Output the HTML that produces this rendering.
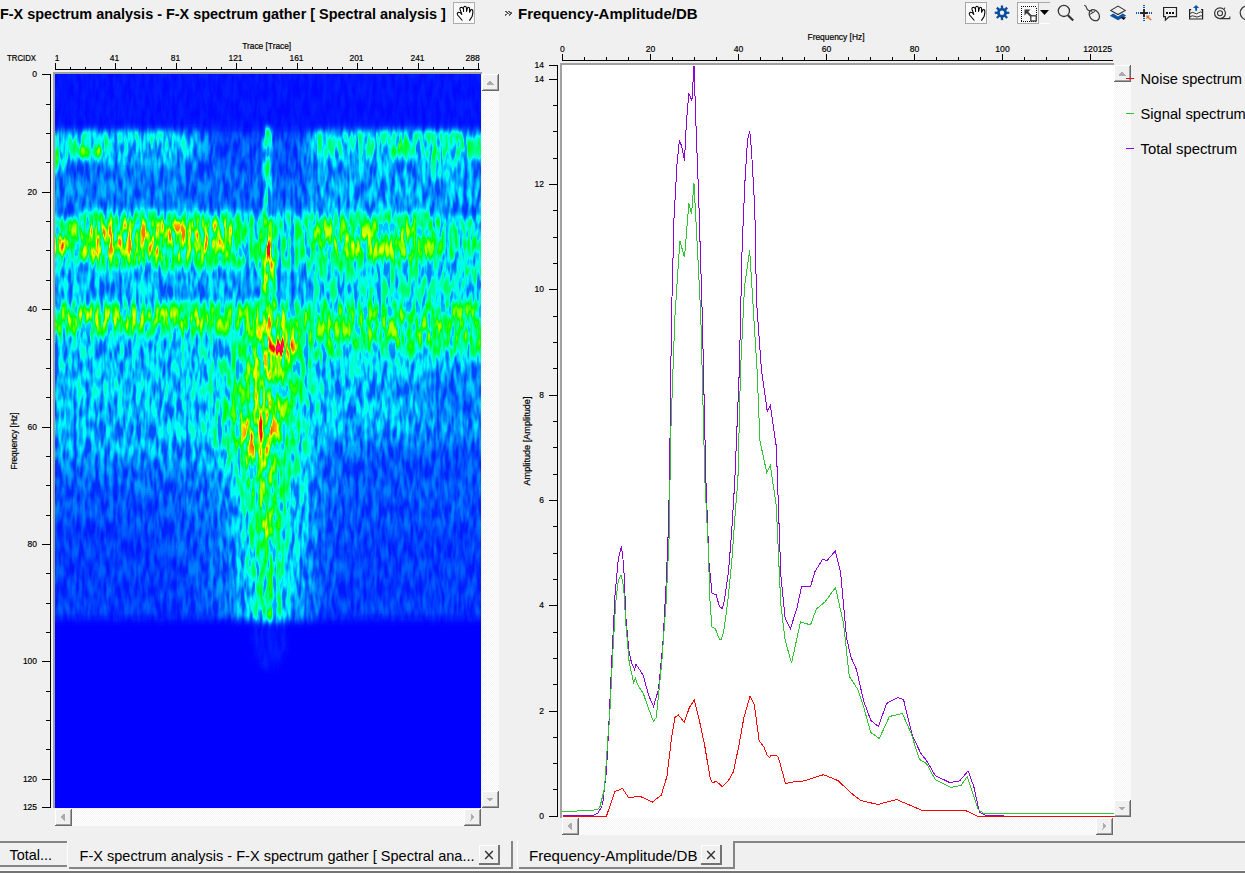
<!DOCTYPE html>
<html><head><meta charset="utf-8"><title>F-X spectrum analysis</title>
<style>
*{margin:0;padding:0}
html,body{width:1245px;height:873px;overflow:hidden;background:#f0f0f0}
svg{position:absolute;left:0;top:0;font-family:'Liberation Sans', sans-serif}
</style></head><body>
<svg width="1245" height="873" viewBox="0 0 1245 873">
<defs>
<pattern id="chk" width="2" height="2" patternUnits="userSpaceOnUse"><rect width="2" height="2" fill="#f4f4f4"/><rect width="1" height="1" fill="#fff"/><rect x="1" y="1" width="1" height="1" fill="#fff"/></pattern>
</defs>
<g shape-rendering="crispEdges">

<text x="0" y="19" font-size="14.5" text-anchor="start" font-weight="bold" fill="#000" textLength="445.8" lengthAdjust="spacingAndGlyphs" >F-X spectrum analysis - F-X spectrum gather [ Spectral analysis ]</text>
<rect x="453" y="2" width="22" height="22" fill="url(#chk)"/>
<rect x="453.5" y="2.5" width="21" height="21" fill="none" stroke="#adadad"/>
<path d="M505 11 L508 13.3 L505 15.6 M508.6 11 L511.6 13.3 L508.6 15.6" fill="none" stroke="#5a5a5a" stroke-width="1.3"/>
<text x="518" y="19" font-size="15" text-anchor="start" font-weight="bold" fill="#000" textLength="179.5" lengthAdjust="spacingAndGlyphs" >Frequency-Amplitude/DB</text>
<rect x="55" y="74" width="426" height="734" fill="#0010f8"/>
<defs><clipPath id="hclip"><rect x="55" y="74" width="426" height="734"/></clipPath>
<filter id="hf" filterUnits="userSpaceOnUse" x="31" y="50" width="474" height="782" color-interpolation-filters="sRGB">
<feGaussianBlur in="SourceGraphic" stdDeviation="2.5 3" result="m"/>
<feTurbulence type="fractalNoise" baseFrequency="0.22 0.05" numOctaves="2" seed="11" result="t"/>
<feColorMatrix in="t" type="matrix" values="2.4 0 0 0 -0.7  2.4 0 0 0 -0.7  2.4 0 0 0 -0.7  0 0 0 0 1" result="n"/>
<feComposite in="m" in2="n" operator="arithmetic" k1="1.1" k2="0.45" k3="0" k4="0" result="v"/>
<feComponentTransfer in="v">
<feFuncR type="table" tableValues="0 0 0 1 1 1"/>
<feFuncG type="table" tableValues="0 1 1 1 0 0"/>
<feFuncB type="table" tableValues="1 1 0 0 0 0.7"/>
<feFuncA type="table" tableValues="1 1"/>
</feComponentTransfer>
</filter></defs>
<g clip-path="url(#hclip)"><g filter="url(#hf)">
<path fill="rgb(0,0,0)" d="M31 622h220v4h-220zM291 622h216v4h-216zM31 626h220v4h-220zM287 626h220v4h-220zM31 630h220v4h-220zM287 630h220v4h-220zM31 634h220v4h-220zM287 634h220v4h-220zM31 638h220v4h-220zM287 638h220v4h-220zM31 642h224v4h-224zM287 642h220v4h-220zM31 646h224v4h-224zM287 646h220v4h-220zM31 650h224v4h-224zM287 650h220v4h-220zM31 654h224v4h-224zM283 654h224v4h-224zM31 658h228v4h-228zM283 658h224v4h-224zM31 662h228v4h-228zM279 662h228v4h-228zM31 666h232v4h-232zM279 666h228v4h-228zM31 670h476v4h-476zM31 674h476v4h-476zM31 678h476v4h-476zM31 682h476v4h-476zM31 686h476v4h-476zM31 690h476v4h-476zM31 694h476v4h-476zM31 698h476v4h-476zM31 702h476v4h-476zM31 706h476v4h-476zM31 710h476v4h-476zM31 714h476v4h-476zM31 718h476v4h-476zM31 722h476v4h-476zM31 726h476v4h-476zM31 730h476v4h-476zM31 734h476v4h-476zM31 738h476v4h-476zM31 742h476v4h-476zM31 746h476v4h-476zM31 750h476v4h-476zM31 754h476v4h-476zM31 758h476v4h-476zM31 762h476v4h-476zM31 766h476v4h-476zM31 770h476v4h-476zM31 774h476v4h-476zM31 778h476v4h-476zM31 782h476v4h-476zM31 786h476v4h-476zM31 790h476v4h-476zM31 794h476v4h-476zM31 798h476v4h-476zM31 802h476v4h-476zM31 806h476v4h-476zM31 810h476v4h-476zM31 814h476v4h-476zM31 818h476v4h-476zM31 822h476v4h-476zM31 826h476v4h-476zM31 830h476v4h-476z"/>
<path fill="rgb(4,4,4)" d="M31 50h476v4h-476zM31 54h476v4h-476zM31 58h476v4h-476zM31 62h476v4h-476zM31 66h476v4h-476zM31 70h476v4h-476zM31 74h476v4h-476zM31 78h476v4h-476zM31 82h476v4h-476zM31 86h476v4h-476zM31 90h476v4h-476zM31 94h476v4h-476zM31 98h476v4h-476zM31 102h476v4h-476zM31 106h476v4h-476zM31 110h476v4h-476zM31 114h476v4h-476zM31 118h476v4h-476zM31 122h476v4h-476zM31 126h476v4h-476zM31 618h200v4h-200zM319 618h188v4h-188zM251 622h40v4h-40zM251 626h36v4h-36zM251 630h36v4h-36zM251 634h36v4h-36zM251 638h36v4h-36zM255 642h32v4h-32zM255 646h32v4h-32zM255 650h32v4h-32zM255 654h28v4h-28zM259 658h24v4h-24zM259 662h20v4h-20zM263 666h16v4h-16z"/>
<path fill="rgb(8,8,8)" d="M215 130h88v4h-88zM31 614h136v4h-136zM355 614h152v4h-152zM231 618h4v4h-4zM315 618h4v4h-4z"/>
<path fill="rgb(12,12,12)" d="M207 130h8v4h-8zM447 210h60v4h-60zM31 522h104v4h-104zM31 526h116v4h-116zM383 526h124v4h-124zM31 530h124v4h-124zM371 530h136v4h-136zM31 534h132v4h-132zM367 534h140v4h-140zM31 538h136v4h-136zM359 538h148v4h-148zM31 542h140v4h-140zM355 542h152v4h-152zM31 546h140v4h-140zM351 546h156v4h-156zM31 550h144v4h-144zM351 550h156v4h-156zM31 554h148v4h-148zM347 554h160v4h-160zM31 558h148v4h-148zM343 558h164v4h-164zM31 562h148v4h-148zM343 562h164v4h-164zM31 566h152v4h-152zM343 566h164v4h-164zM31 570h152v4h-152zM339 570h168v4h-168zM31 574h152v4h-152zM339 574h168v4h-168zM31 578h156v4h-156zM339 578h168v4h-168zM31 582h156v4h-156zM335 582h172v4h-172zM31 586h156v4h-156zM335 586h172v4h-172zM31 590h160v4h-160zM335 590h172v4h-172zM31 594h160v4h-160zM335 594h172v4h-172zM31 598h160v4h-160zM331 598h176v4h-176zM31 602h160v4h-160zM331 602h176v4h-176zM31 606h164v4h-164zM331 606h176v4h-176zM31 610h164v4h-164zM331 610h176v4h-176zM167 614h32v4h-32zM323 614h32v4h-32zM235 618h8v4h-8zM307 618h8v4h-8z"/>
<path fill="rgb(16,16,16)" d="M199 130h8v4h-8zM303 130h4v4h-4zM215 134h88v4h-88zM215 138h84v4h-84zM215 142h84v4h-84zM219 146h80v4h-80zM219 150h80v4h-80zM219 154h80v4h-80zM219 158h80v4h-80zM219 162h80v4h-80zM219 166h80v4h-80zM31 210h44v4h-44zM443 210h4v4h-4zM399 450h108v4h-108zM379 454h128v4h-128zM371 458h136v4h-136zM363 462h144v4h-144zM359 466h148v4h-148zM355 470h152v4h-152zM351 474h156v4h-156zM351 478h156v4h-156zM347 482h160v4h-160zM343 486h164v4h-164zM31 490h108v4h-108zM343 490h164v4h-164zM31 494h128v4h-128zM339 494h168v4h-168zM31 498h140v4h-140zM339 498h168v4h-168zM31 502h148v4h-148zM335 502h172v4h-172zM31 506h152v4h-152zM335 506h172v4h-172zM31 510h156v4h-156zM335 510h172v4h-172zM31 514h160v4h-160zM331 514h176v4h-176zM31 518h164v4h-164zM331 518h176v4h-176zM135 522h60v4h-60zM331 522h176v4h-176zM147 526h48v4h-48zM327 526h56v4h-56zM155 530h44v4h-44zM327 530h44v4h-44zM163 534h36v4h-36zM327 534h40v4h-40zM167 538h32v4h-32zM323 538h36v4h-36zM171 542h32v4h-32zM323 542h32v4h-32zM171 546h32v4h-32zM323 546h28v4h-28zM175 550h28v4h-28zM323 550h28v4h-28zM179 554h24v4h-24zM323 554h24v4h-24zM179 558h28v4h-28zM323 558h20v4h-20zM179 562h28v4h-28zM323 562h20v4h-20zM183 566h24v4h-24zM319 566h24v4h-24zM183 570h24v4h-24zM319 570h20v4h-20zM183 574h24v4h-24zM319 574h20v4h-20zM187 578h20v4h-20zM319 578h20v4h-20zM187 582h24v4h-24zM319 582h16v4h-16zM187 586h24v4h-24zM319 586h16v4h-16zM191 590h20v4h-20zM319 590h16v4h-16zM191 594h20v4h-20zM319 594h16v4h-16zM191 598h20v4h-20zM319 598h12v4h-12zM191 602h20v4h-20zM319 602h12v4h-12zM195 606h20v4h-20zM319 606h12v4h-12zM195 610h20v4h-20zM319 610h12v4h-12zM199 614h20v4h-20zM315 614h8v4h-8zM243 618h4v4h-4zM295 618h12v4h-12z"/>
<path fill="rgb(20,20,20)" d="M195 130h4v4h-4zM307 130h4v4h-4zM211 134h4v4h-4zM211 138h4v4h-4zM299 138h4v4h-4zM207 142h8v4h-8zM299 142h4v4h-4zM207 146h12v4h-12zM299 146h4v4h-4zM207 150h12v4h-12zM299 150h4v4h-4zM207 154h12v4h-12zM299 154h4v4h-4zM203 158h16v4h-16zM299 158h8v4h-8zM199 162h20v4h-20zM299 162h8v4h-8zM195 166h24v4h-24zM299 166h8v4h-8zM191 170h116v4h-116zM191 174h116v4h-116zM191 178h116v4h-116zM191 182h116v4h-116zM191 186h116v4h-116zM191 190h116v4h-116zM195 194h112v4h-112zM195 198h108v4h-108zM199 202h104v4h-104zM207 206h56v4h-56zM271 206h32v4h-32zM75 210h4v4h-4zM439 210h4v4h-4zM423 442h64v4h-64zM343 446h164v4h-164zM331 450h68v4h-68zM327 454h52v4h-52zM327 458h44v4h-44zM327 462h36v4h-36zM323 466h36v4h-36zM31 470h120v4h-120zM323 470h32v4h-32zM31 474h148v4h-148zM323 474h28v4h-28zM31 478h152v4h-152zM323 478h28v4h-28zM31 482h156v4h-156zM323 482h24v4h-24zM31 486h160v4h-160zM323 486h20v4h-20zM139 490h56v4h-56zM323 490h20v4h-20zM159 494h40v4h-40zM323 494h16v4h-16zM171 498h32v4h-32zM319 498h20v4h-20zM179 502h24v4h-24zM319 502h16v4h-16zM183 506h24v4h-24zM319 506h16v4h-16zM187 510h24v4h-24zM319 510h16v4h-16zM191 514h20v4h-20zM319 514h12v4h-12zM195 518h20v4h-20zM319 518h12v4h-12zM195 522h20v4h-20zM319 522h12v4h-12zM195 526h20v4h-20zM319 526h8v4h-8zM199 530h16v4h-16zM319 530h8v4h-8zM199 534h20v4h-20zM319 534h8v4h-8zM199 538h20v4h-20zM319 538h4v4h-4zM203 542h16v4h-16zM319 542h4v4h-4zM203 546h16v4h-16zM319 546h4v4h-4zM203 550h16v4h-16zM315 550h8v4h-8zM203 554h20v4h-20zM315 554h8v4h-8zM207 558h16v4h-16zM315 558h8v4h-8zM207 562h16v4h-16zM315 562h8v4h-8zM207 566h16v4h-16zM315 566h4v4h-4zM207 570h16v4h-16zM315 570h4v4h-4zM207 574h16v4h-16zM315 574h4v4h-4zM207 578h20v4h-20zM315 578h4v4h-4zM211 582h16v4h-16zM315 582h4v4h-4zM211 586h16v4h-16zM315 586h4v4h-4zM211 590h16v4h-16zM315 590h4v4h-4zM211 594h16v4h-16zM311 594h8v4h-8zM211 598h16v4h-16zM311 598h8v4h-8zM211 602h16v4h-16zM311 602h8v4h-8zM215 606h12v4h-12zM311 606h8v4h-8zM215 610h12v4h-12zM311 610h8v4h-8zM219 614h12v4h-12zM311 614h4v4h-4zM247 618h4v4h-4zM287 618h8v4h-8z"/>
<path fill="rgb(24,24,24)" d="M187 130h8v4h-8zM203 134h8v4h-8zM303 134h4v4h-4zM203 138h8v4h-8zM303 138h4v4h-4zM203 142h4v4h-4zM303 142h4v4h-4zM203 146h4v4h-4zM303 146h4v4h-4zM203 150h4v4h-4zM303 150h4v4h-4zM199 154h8v4h-8zM303 154h4v4h-4zM195 158h8v4h-8zM183 162h16v4h-16zM307 162h4v4h-4zM31 166h16v4h-16zM67 166h128v4h-128zM307 166h4v4h-4zM31 170h20v4h-20zM63 170h128v4h-128zM307 170h4v4h-4zM31 174h160v4h-160zM307 174h4v4h-4zM31 178h160v4h-160zM307 178h4v4h-4zM31 182h160v4h-160zM307 182h4v4h-4zM31 186h160v4h-160zM307 186h4v4h-4zM31 190h160v4h-160zM307 190h4v4h-4zM31 194h164v4h-164zM307 194h4v4h-4zM31 198h164v4h-164zM303 198h8v4h-8zM31 202h168v4h-168zM303 202h8v4h-8zM31 206h176v4h-176zM263 206h8v4h-8zM303 206h8v4h-8zM79 210h4v4h-4zM435 210h4v4h-4zM447 378h16v4h-16zM443 382h24v4h-24zM439 386h32v4h-32zM435 390h40v4h-40zM435 394h40v4h-40zM435 398h40v4h-40zM435 402h40v4h-40zM439 406h32v4h-32zM439 410h32v4h-32zM443 414h24v4h-24zM447 434h16v4h-16zM399 438h108v4h-108zM335 442h88v4h-88zM487 442h20v4h-20zM323 446h20v4h-20zM319 450h12v4h-12zM319 454h8v4h-8zM319 458h8v4h-8zM31 462h128v4h-128zM319 462h8v4h-8zM31 466h152v4h-152zM319 466h4v4h-4zM151 470h48v4h-48zM319 470h4v4h-4zM179 474h28v4h-28zM319 474h4v4h-4zM183 478h24v4h-24zM319 478h4v4h-4zM187 482h24v4h-24zM319 482h4v4h-4zM191 486h20v4h-20zM319 486h4v4h-4zM195 490h20v4h-20zM319 490h4v4h-4zM199 494h16v4h-16zM315 494h8v4h-8zM203 498h16v4h-16zM315 498h4v4h-4zM203 502h20v4h-20zM315 502h4v4h-4zM207 506h16v4h-16zM315 506h4v4h-4zM211 510h16v4h-16zM315 510h4v4h-4zM211 514h16v4h-16zM315 514h4v4h-4zM215 518h12v4h-12zM315 518h4v4h-4zM215 522h12v4h-12zM315 522h4v4h-4zM215 526h12v4h-12zM315 526h4v4h-4zM215 530h12v4h-12zM315 530h4v4h-4zM219 534h12v4h-12zM315 534h4v4h-4zM219 538h12v4h-12zM315 538h4v4h-4zM219 542h12v4h-12zM315 542h4v4h-4zM219 546h12v4h-12zM311 546h8v4h-8zM219 550h12v4h-12zM311 550h4v4h-4zM223 554h8v4h-8zM311 554h4v4h-4zM223 558h8v4h-8zM311 558h4v4h-4zM223 562h8v4h-8zM311 562h4v4h-4zM223 566h8v4h-8zM311 566h4v4h-4zM223 570h8v4h-8zM311 570h4v4h-4zM223 574h8v4h-8zM311 574h4v4h-4zM227 578h4v4h-4zM311 578h4v4h-4zM227 582h4v4h-4zM311 582h4v4h-4zM227 586h8v4h-8zM307 586h8v4h-8zM227 590h8v4h-8zM307 590h8v4h-8zM227 594h8v4h-8zM307 594h4v4h-4zM227 598h8v4h-8zM307 598h4v4h-4zM227 602h8v4h-8zM307 602h4v4h-4zM227 606h8v4h-8zM307 606h4v4h-4zM227 610h8v4h-8zM303 610h8v4h-8zM231 614h4v4h-4zM303 614h8v4h-8zM251 618h4v4h-4zM283 618h4v4h-4z"/>
<path fill="rgb(28,28,28)" d="M183 130h4v4h-4zM311 130h4v4h-4zM199 134h4v4h-4zM199 138h4v4h-4zM195 142h8v4h-8zM195 146h8v4h-8zM195 150h8v4h-8zM195 154h4v4h-4zM307 154h4v4h-4zM183 158h12v4h-12zM307 158h4v4h-4zM31 162h16v4h-16zM67 162h116v4h-116zM311 162h4v4h-4zM47 166h4v4h-4zM63 166h4v4h-4zM311 166h8v4h-8zM51 170h4v4h-4zM59 170h4v4h-4zM311 170h8v4h-8zM311 174h8v4h-8zM311 178h8v4h-8zM311 182h8v4h-8zM311 186h8v4h-8zM311 190h4v4h-4zM311 194h4v4h-4zM311 198h4v4h-4zM311 202h4v4h-4zM311 206h4v4h-4zM439 370h32v4h-32zM435 374h40v4h-40zM431 378h16v4h-16zM463 378h16v4h-16zM427 382h16v4h-16zM467 382h16v4h-16zM427 386h12v4h-12zM471 386h12v4h-12zM423 390h12v4h-12zM475 390h12v4h-12zM423 394h12v4h-12zM475 394h12v4h-12zM423 398h12v4h-12zM475 398h12v4h-12zM423 402h12v4h-12zM475 402h12v4h-12zM423 406h16v4h-16zM471 406h16v4h-16zM423 410h16v4h-16zM471 410h16v4h-16zM427 414h16v4h-16zM467 414h16v4h-16zM427 418h56v4h-56zM431 422h48v4h-48zM435 426h40v4h-40zM427 430h56v4h-56zM367 434h80v4h-80zM463 434h44v4h-44zM331 438h68v4h-68zM323 442h12v4h-12zM319 446h4v4h-4zM315 450h4v4h-4zM31 454h128v4h-128zM315 454h4v4h-4zM31 458h156v4h-156zM315 458h4v4h-4zM159 462h40v4h-40zM315 462h4v4h-4zM183 466h24v4h-24zM315 466h4v4h-4zM199 470h16v4h-16zM315 470h4v4h-4zM207 474h12v4h-12zM315 474h4v4h-4zM207 478h16v4h-16zM315 478h4v4h-4zM211 482h12v4h-12zM315 482h4v4h-4zM211 486h12v4h-12zM315 486h4v4h-4zM215 490h12v4h-12zM315 490h4v4h-4zM215 494h12v4h-12zM219 498h8v4h-8zM223 502h8v4h-8zM311 502h4v4h-4zM223 506h8v4h-8zM311 506h4v4h-4zM227 510h4v4h-4zM311 510h4v4h-4zM227 514h4v4h-4zM311 514h4v4h-4zM227 518h4v4h-4zM311 518h4v4h-4zM227 522h4v4h-4zM311 522h4v4h-4zM227 526h4v4h-4zM311 526h4v4h-4zM227 530h8v4h-8zM311 530h4v4h-4zM231 534h4v4h-4zM311 534h4v4h-4zM231 538h4v4h-4zM311 538h4v4h-4zM231 542h4v4h-4zM311 542h4v4h-4zM231 546h4v4h-4zM307 546h4v4h-4zM231 550h4v4h-4zM307 550h4v4h-4zM231 554h4v4h-4zM307 554h4v4h-4zM231 558h4v4h-4zM307 558h4v4h-4zM231 562h4v4h-4zM307 562h4v4h-4zM231 566h4v4h-4zM307 566h4v4h-4zM231 570h4v4h-4zM307 570h4v4h-4zM231 574h4v4h-4zM303 574h8v4h-8zM231 578h4v4h-4zM303 578h8v4h-8zM231 582h8v4h-8zM303 582h8v4h-8zM235 586h4v4h-4zM303 586h4v4h-4zM235 590h4v4h-4zM303 590h4v4h-4zM235 594h4v4h-4zM299 594h8v4h-8zM235 598h4v4h-4zM299 598h8v4h-8zM235 602h4v4h-4zM299 602h8v4h-8zM235 606h4v4h-4zM299 606h8v4h-8zM235 610h4v4h-4zM295 610h8v4h-8zM235 614h8v4h-8zM295 614h8v4h-8zM255 618h4v4h-4z"/>
<path fill="rgb(32,32,32)" d="M171 130h12v4h-12zM195 134h4v4h-4zM195 138h4v4h-4zM307 138h4v4h-4zM191 142h4v4h-4zM307 142h4v4h-4zM191 146h4v4h-4zM307 146h4v4h-4zM191 150h4v4h-4zM307 150h4v4h-4zM187 154h8v4h-8zM171 158h12v4h-12zM311 158h4v4h-4zM47 162h4v4h-4zM63 162h4v4h-4zM315 162h104v4h-104zM463 162h44v4h-44zM319 166h104v4h-104zM459 166h48v4h-48zM55 170h4v4h-4zM319 170h104v4h-104zM455 170h52v4h-52zM319 174h104v4h-104zM455 174h52v4h-52zM319 178h108v4h-108zM455 178h52v4h-52zM319 182h112v4h-112zM451 182h56v4h-56zM319 186h188v4h-188zM315 190h192v4h-192zM315 194h192v4h-192zM315 198h192v4h-192zM315 202h192v4h-192zM315 206h192v4h-192zM83 210h4v4h-4zM239 210h24v4h-24zM271 210h36v4h-36zM431 210h4v4h-4zM447 262h60v4h-60zM231 270h28v4h-28zM279 270h24v4h-24zM231 274h28v4h-28zM279 274h24v4h-24zM231 278h28v4h-28zM279 278h28v4h-28zM231 282h28v4h-28zM279 282h28v4h-28zM231 286h28v4h-28zM279 286h28v4h-28zM231 290h28v4h-28zM279 290h28v4h-28zM231 294h28v4h-28zM279 294h28v4h-28zM443 362h24v4h-24zM427 366h56v4h-56zM423 370h16v4h-16zM471 370h16v4h-16zM419 374h16v4h-16zM475 374h16v4h-16zM415 378h16v4h-16zM479 378h16v4h-16zM415 382h12v4h-12zM483 382h12v4h-12zM411 386h16v4h-16zM483 386h16v4h-16zM411 390h12v4h-12zM487 390h12v4h-12zM407 394h16v4h-16zM487 394h16v4h-16zM407 398h16v4h-16zM487 398h16v4h-16zM407 402h16v4h-16zM487 402h16v4h-16zM403 406h20v4h-20zM487 406h20v4h-20zM403 410h20v4h-20zM487 410h20v4h-20zM403 414h24v4h-24zM483 414h24v4h-24zM403 418h24v4h-24zM483 418h24v4h-24zM399 422h32v4h-32zM479 422h28v4h-28zM399 426h36v4h-36zM475 426h32v4h-32zM351 430h76v4h-76zM483 430h24v4h-24zM31 434h96v4h-96zM327 434h40v4h-40zM31 438h128v4h-128zM319 438h12v4h-12zM31 442h136v4h-136zM319 442h4v4h-4zM31 446h144v4h-144zM315 446h4v4h-4zM31 450h156v4h-156zM159 454h36v4h-36zM187 458h20v4h-20zM199 462h12v4h-12zM311 462h4v4h-4zM207 466h12v4h-12zM311 466h4v4h-4zM215 470h8v4h-8zM311 470h4v4h-4zM219 474h8v4h-8zM311 474h4v4h-4zM223 478h4v4h-4zM311 478h4v4h-4zM223 482h4v4h-4zM311 482h4v4h-4zM223 486h8v4h-8zM311 486h4v4h-4zM227 490h4v4h-4zM311 490h4v4h-4zM227 494h4v4h-4zM311 494h4v4h-4zM227 498h4v4h-4zM311 498h4v4h-4zM231 506h4v4h-4zM231 510h4v4h-4zM307 510h4v4h-4zM231 514h4v4h-4zM307 514h4v4h-4zM231 518h4v4h-4zM307 518h4v4h-4zM231 522h4v4h-4zM307 522h4v4h-4zM231 526h4v4h-4zM307 526h4v4h-4zM307 530h4v4h-4zM307 534h4v4h-4zM235 538h4v4h-4zM307 538h4v4h-4zM235 542h4v4h-4zM303 542h8v4h-8zM235 546h4v4h-4zM303 546h4v4h-4zM235 550h4v4h-4zM303 550h4v4h-4zM235 554h4v4h-4zM303 554h4v4h-4zM235 558h4v4h-4zM303 558h4v4h-4zM235 562h4v4h-4zM299 562h8v4h-8zM235 566h4v4h-4zM299 566h8v4h-8zM235 570h4v4h-4zM299 570h8v4h-8zM235 574h4v4h-4zM299 574h4v4h-4zM235 578h4v4h-4zM295 578h8v4h-8zM239 582h4v4h-4zM295 582h8v4h-8zM239 586h4v4h-4zM295 586h8v4h-8zM239 590h4v4h-4zM295 590h8v4h-8zM239 594h4v4h-4zM295 594h4v4h-4zM239 598h4v4h-4zM295 598h4v4h-4zM239 602h4v4h-4zM291 602h8v4h-8zM239 606h4v4h-4zM291 606h8v4h-8zM239 610h8v4h-8zM291 610h4v4h-4zM243 614h4v4h-4zM291 614h4v4h-4zM279 618h4v4h-4z"/>
<path fill="rgb(36,36,36)" d="M31 130h140v4h-140zM315 130h108v4h-108zM455 130h52v4h-52zM191 134h4v4h-4zM307 134h4v4h-4zM187 138h8v4h-8zM187 142h4v4h-4zM183 146h8v4h-8zM183 150h8v4h-8zM179 154h8v4h-8zM311 154h4v4h-4zM31 158h16v4h-16zM67 158h12v4h-12zM83 158h4v4h-4zM107 158h64v4h-64zM315 158h4v4h-4zM419 162h4v4h-4zM455 162h8v4h-8zM423 166h4v4h-4zM451 166h8v4h-8zM423 170h4v4h-4zM451 170h4v4h-4zM423 174h8v4h-8zM447 174h8v4h-8zM427 178h12v4h-12zM443 178h12v4h-12zM431 182h20v4h-20zM87 210h4v4h-4zM231 210h8v4h-8zM307 210h8v4h-8zM427 210h4v4h-4zM443 214h64v4h-64zM443 262h4v4h-4zM31 270h200v4h-200zM275 270h4v4h-4zM303 270h4v4h-4zM31 274h200v4h-200zM275 274h4v4h-4zM303 274h4v4h-4zM31 278h200v4h-200zM275 278h4v4h-4zM31 282h200v4h-200zM275 282h4v4h-4zM307 282h4v4h-4zM31 286h200v4h-200zM275 286h4v4h-4zM307 286h4v4h-4zM31 290h200v4h-200zM275 290h4v4h-4zM307 290h4v4h-4zM31 294h200v4h-200zM275 294h4v4h-4zM307 294h4v4h-4zM31 298h216v4h-216zM287 298h16v4h-16zM415 362h28v4h-28zM467 362h28v4h-28zM387 366h40v4h-40zM483 366h24v4h-24zM379 370h44v4h-44zM487 370h20v4h-20zM371 374h48v4h-48zM491 374h16v4h-16zM363 378h52v4h-52zM495 378h12v4h-12zM359 382h56v4h-56zM495 382h12v4h-12zM355 386h56v4h-56zM499 386h8v4h-8zM351 390h60v4h-60zM499 390h8v4h-8zM347 394h60v4h-60zM503 394h4v4h-4zM347 398h60v4h-60zM503 398h4v4h-4zM31 402h112v4h-112zM343 402h64v4h-64zM503 402h4v4h-4zM31 406h128v4h-128zM343 406h60v4h-60zM31 410h140v4h-140zM339 410h64v4h-64zM31 414h144v4h-144zM339 414h64v4h-64zM31 418h148v4h-148zM335 418h68v4h-68zM31 422h152v4h-152zM335 422h64v4h-64zM31 426h156v4h-156zM335 426h64v4h-64zM31 430h156v4h-156zM327 430h24v4h-24zM127 434h64v4h-64zM319 434h8v4h-8zM159 438h32v4h-32zM315 438h4v4h-4zM167 442h28v4h-28zM315 442h4v4h-4zM175 446h24v4h-24zM311 446h4v4h-4zM187 450h16v4h-16zM311 450h4v4h-4zM195 454h12v4h-12zM311 454h4v4h-4zM207 458h8v4h-8zM311 458h4v4h-4zM211 462h8v4h-8zM219 466h8v4h-8zM223 470h4v4h-4zM227 474h4v4h-4zM307 474h4v4h-4zM227 478h4v4h-4zM307 478h4v4h-4zM227 482h4v4h-4zM307 482h4v4h-4zM307 486h4v4h-4zM231 490h4v4h-4zM307 490h4v4h-4zM231 494h4v4h-4zM307 494h4v4h-4zM231 498h4v4h-4zM307 498h4v4h-4zM231 502h4v4h-4zM307 502h4v4h-4zM307 506h4v4h-4zM235 510h4v4h-4zM303 510h4v4h-4zM235 514h4v4h-4zM303 514h4v4h-4zM235 518h4v4h-4zM303 518h4v4h-4zM235 522h4v4h-4zM303 522h4v4h-4zM235 526h4v4h-4zM303 526h4v4h-4zM235 530h4v4h-4zM303 530h4v4h-4zM235 534h4v4h-4zM299 534h8v4h-8zM299 538h8v4h-8zM299 542h4v4h-4zM299 546h4v4h-4zM295 550h8v4h-8zM239 554h4v4h-4zM295 554h8v4h-8zM239 558h4v4h-4zM295 558h8v4h-8zM239 562h4v4h-4zM295 562h4v4h-4zM239 566h4v4h-4zM295 566h4v4h-4zM239 570h4v4h-4zM295 570h4v4h-4zM239 574h4v4h-4zM291 574h8v4h-8zM239 578h4v4h-4zM291 578h4v4h-4zM291 582h4v4h-4zM243 586h4v4h-4zM291 586h4v4h-4zM243 590h4v4h-4zM291 590h4v4h-4zM243 594h4v4h-4zM291 594h4v4h-4zM243 598h4v4h-4zM291 598h4v4h-4zM243 602h4v4h-4zM243 606h4v4h-4zM287 610h4v4h-4zM247 614h4v4h-4zM287 614h4v4h-4zM259 618h4v4h-4zM275 618h4v4h-4z"/>
<path fill="rgb(40,40,40)" d="M423 130h32v4h-32zM187 134h4v4h-4zM183 138h4v4h-4zM179 142h8v4h-8zM311 142h4v4h-4zM175 146h8v4h-8zM311 146h4v4h-4zM171 150h12v4h-12zM311 150h4v4h-4zM31 154h16v4h-16zM67 154h4v4h-4zM111 154h68v4h-68zM315 154h4v4h-4zM47 158h4v4h-4zM63 158h4v4h-4zM79 158h4v4h-4zM87 158h20v4h-20zM319 158h104v4h-104zM463 158h44v4h-44zM423 162h4v4h-4zM451 162h4v4h-4zM51 166h4v4h-4zM59 166h4v4h-4zM427 166h4v4h-4zM447 166h4v4h-4zM427 170h8v4h-8zM447 170h4v4h-4zM431 174h16v4h-16zM439 178h4v4h-4zM203 210h28v4h-28zM315 210h4v4h-4zM31 214h44v4h-44zM439 214h4v4h-4zM31 262h44v4h-44zM439 262h4v4h-4zM307 270h4v4h-4zM307 274h4v4h-4zM307 278h4v4h-4zM311 286h4v4h-4zM311 290h4v4h-4zM259 294h4v4h-4zM311 294h4v4h-4zM247 298h4v4h-4zM283 298h4v4h-4zM303 298h8v4h-8zM31 338h196v4h-196zM31 342h196v4h-196zM31 346h148v4h-148zM31 350h152v4h-152zM31 354h152v4h-152zM31 358h152v4h-152zM443 358h24v4h-24zM31 362h152v4h-152zM343 362h72v4h-72zM495 362h12v4h-12zM31 366h156v4h-156zM331 366h56v4h-56zM31 370h156v4h-156zM327 370h52v4h-52zM31 374h156v4h-156zM327 374h44v4h-44zM31 378h156v4h-156zM327 378h36v4h-36zM31 382h160v4h-160zM327 382h32v4h-32zM31 386h160v4h-160zM327 386h28v4h-28zM31 390h160v4h-160zM323 390h28v4h-28zM31 394h160v4h-160zM323 394h24v4h-24zM31 398h160v4h-160zM323 398h24v4h-24zM143 402h52v4h-52zM323 402h20v4h-20zM159 406h36v4h-36zM323 406h20v4h-20zM171 410h24v4h-24zM323 410h16v4h-16zM175 414h24v4h-24zM323 414h16v4h-16zM179 418h20v4h-20zM323 418h12v4h-12zM183 422h16v4h-16zM319 422h16v4h-16zM187 426h12v4h-12zM319 426h16v4h-16zM187 430h12v4h-12zM319 430h8v4h-8zM191 434h8v4h-8zM315 434h4v4h-4zM191 438h8v4h-8zM195 442h8v4h-8zM311 442h4v4h-4zM199 446h8v4h-8zM203 450h8v4h-8zM207 454h8v4h-8zM307 454h4v4h-4zM215 458h4v4h-4zM307 458h4v4h-4zM219 462h8v4h-8zM307 462h4v4h-4zM307 466h4v4h-4zM227 470h4v4h-4zM307 470h4v4h-4zM231 478h4v4h-4zM231 482h4v4h-4zM303 482h4v4h-4zM231 486h4v4h-4zM303 486h4v4h-4zM303 490h4v4h-4zM303 494h4v4h-4zM235 498h4v4h-4zM303 498h4v4h-4zM235 502h4v4h-4zM303 502h4v4h-4zM235 506h4v4h-4zM299 506h8v4h-8zM299 510h4v4h-4zM299 514h4v4h-4zM239 518h4v4h-4zM295 518h8v4h-8zM239 522h4v4h-4zM295 522h8v4h-8zM239 526h4v4h-4zM295 526h8v4h-8zM239 530h4v4h-4zM295 530h8v4h-8zM239 534h4v4h-4zM295 534h4v4h-4zM239 538h4v4h-4zM295 538h4v4h-4zM239 542h4v4h-4zM291 542h8v4h-8zM239 546h4v4h-4zM291 546h8v4h-8zM239 550h4v4h-4zM291 550h4v4h-4zM291 554h4v4h-4zM291 558h4v4h-4zM291 562h4v4h-4zM243 566h4v4h-4zM291 566h4v4h-4zM243 570h4v4h-4zM291 570h4v4h-4zM243 574h4v4h-4zM243 578h4v4h-4zM287 578h4v4h-4zM243 582h4v4h-4zM287 582h4v4h-4zM287 586h4v4h-4zM287 590h4v4h-4zM247 594h4v4h-4zM287 594h4v4h-4zM247 598h4v4h-4zM287 598h4v4h-4zM247 602h4v4h-4zM287 602h4v4h-4zM247 606h4v4h-4zM287 606h4v4h-4zM247 610h4v4h-4z"/>
<path fill="rgb(45,45,45)" d="M183 134h4v4h-4zM311 134h4v4h-4zM175 138h8v4h-8zM311 138h4v4h-4zM31 142h20v4h-20zM63 142h8v4h-8zM111 142h68v4h-68zM31 146h20v4h-20zM63 146h8v4h-8zM111 146h64v4h-64zM31 150h16v4h-16zM67 150h4v4h-4zM111 150h60v4h-60zM315 150h4v4h-4zM71 154h4v4h-4zM319 154h72v4h-72zM407 154h8v4h-8zM471 154h36v4h-36zM423 158h4v4h-4zM455 158h8v4h-8zM427 162h4v4h-4zM447 162h4v4h-4zM431 166h4v4h-4zM443 166h4v4h-4zM435 170h12v4h-12zM91 210h4v4h-4zM179 210h24v4h-24zM263 210h8v4h-8zM319 210h108v4h-108zM75 214h4v4h-4zM75 262h4v4h-4zM435 262h4v4h-4zM243 266h16v4h-16zM279 266h28v4h-28zM311 270h4v4h-4zM311 274h4v4h-4zM311 278h4v4h-4zM311 282h4v4h-4zM259 290h4v4h-4zM315 290h4v4h-4zM315 294h4v4h-4zM251 298h4v4h-4zM279 298h4v4h-4zM311 298h8v4h-8zM227 338h4v4h-4zM227 342h4v4h-4zM179 346h28v4h-28zM183 350h24v4h-24zM183 354h24v4h-24zM183 358h24v4h-24zM407 358h36v4h-36zM467 358h36v4h-36zM183 362h24v4h-24zM323 362h20v4h-20zM187 366h20v4h-20zM319 366h12v4h-12zM187 370h20v4h-20zM319 370h8v4h-8zM187 374h20v4h-20zM319 374h8v4h-8zM187 378h20v4h-20zM319 378h8v4h-8zM191 382h16v4h-16zM319 382h8v4h-8zM191 386h16v4h-16zM319 386h8v4h-8zM191 390h16v4h-16zM319 390h4v4h-4zM191 394h16v4h-16zM319 394h4v4h-4zM191 398h16v4h-16zM319 398h4v4h-4zM195 402h12v4h-12zM319 402h4v4h-4zM195 406h12v4h-12zM315 406h8v4h-8zM195 410h12v4h-12zM315 410h8v4h-8zM199 414h8v4h-8zM315 414h8v4h-8zM199 418h8v4h-8zM315 418h8v4h-8zM199 422h8v4h-8zM315 422h4v4h-4zM199 426h8v4h-8zM315 426h4v4h-4zM199 430h8v4h-8zM315 430h4v4h-4zM199 434h8v4h-8zM311 434h4v4h-4zM199 438h8v4h-8zM311 438h4v4h-4zM203 442h8v4h-8zM207 446h4v4h-4zM307 446h4v4h-4zM211 450h4v4h-4zM307 450h4v4h-4zM215 454h4v4h-4zM219 458h4v4h-4zM303 462h4v4h-4zM227 466h4v4h-4zM303 466h4v4h-4zM231 470h4v4h-4zM303 470h4v4h-4zM231 474h4v4h-4zM303 474h4v4h-4zM299 478h8v4h-8zM299 482h4v4h-4zM299 486h4v4h-4zM235 490h4v4h-4zM299 490h4v4h-4zM235 494h4v4h-4zM295 494h8v4h-8zM295 498h8v4h-8zM295 502h8v4h-8zM239 506h4v4h-4zM295 506h4v4h-4zM239 510h4v4h-4zM295 510h4v4h-4zM239 514h4v4h-4zM295 514h4v4h-4zM291 518h4v4h-4zM291 522h4v4h-4zM291 526h4v4h-4zM291 530h4v4h-4zM291 534h4v4h-4zM243 538h4v4h-4zM291 538h4v4h-4zM243 542h4v4h-4zM243 546h4v4h-4zM287 546h4v4h-4zM243 550h4v4h-4zM287 550h4v4h-4zM243 554h4v4h-4zM287 554h4v4h-4zM243 558h4v4h-4zM287 558h4v4h-4zM243 562h4v4h-4zM287 562h4v4h-4zM287 566h4v4h-4zM287 570h4v4h-4zM247 574h4v4h-4zM287 574h4v4h-4zM247 578h4v4h-4zM247 582h4v4h-4zM247 586h4v4h-4zM247 590h4v4h-4zM283 594h4v4h-4zM283 598h4v4h-4zM251 602h4v4h-4zM283 602h4v4h-4zM251 606h4v4h-4zM283 606h4v4h-4zM251 610h4v4h-4zM283 610h4v4h-4zM251 614h4v4h-4zM283 614h4v4h-4zM263 618h4v4h-4zM271 618h4v4h-4z"/>
<path fill="rgb(49,49,49)" d="M175 134h8v4h-8zM31 138h48v4h-48zM83 138h4v4h-4zM107 138h68v4h-68zM51 142h12v4h-12zM71 142h4v4h-4zM107 142h4v4h-4zM315 142h4v4h-4zM51 146h4v4h-4zM59 146h4v4h-4zM71 146h4v4h-4zM315 146h4v4h-4zM47 150h4v4h-4zM63 150h4v4h-4zM71 150h4v4h-4zM319 150h72v4h-72zM407 150h12v4h-12zM471 150h36v4h-36zM47 154h4v4h-4zM63 154h4v4h-4zM107 154h4v4h-4zM391 154h4v4h-4zM403 154h4v4h-4zM415 154h8v4h-8zM467 154h4v4h-4zM427 158h4v4h-4zM451 158h4v4h-4zM431 162h4v4h-4zM443 162h4v4h-4zM55 166h4v4h-4zM435 166h8v4h-8zM95 210h84v4h-84zM79 214h4v4h-4zM435 214h4v4h-4zM443 258h64v4h-64zM235 266h8v4h-8zM275 266h4v4h-4zM307 266h4v4h-4zM259 270h4v4h-4zM315 270h4v4h-4zM259 274h4v4h-4zM315 274h4v4h-4zM259 278h4v4h-4zM315 278h4v4h-4zM259 282h4v4h-4zM315 282h4v4h-4zM259 286h4v4h-4zM315 286h8v4h-8zM319 290h4v4h-4zM319 294h188v4h-188zM319 298h188v4h-188zM231 342h4v4h-4zM207 346h16v4h-16zM207 350h16v4h-16zM207 354h16v4h-16zM443 354h24v4h-24zM207 358h16v4h-16zM335 358h72v4h-72zM503 358h4v4h-4zM207 362h12v4h-12zM315 362h8v4h-8zM207 366h12v4h-12zM315 366h4v4h-4zM207 370h12v4h-12zM315 370h4v4h-4zM207 374h12v4h-12zM315 374h4v4h-4zM207 378h12v4h-12zM315 378h4v4h-4zM207 382h12v4h-12zM315 382h4v4h-4zM207 386h8v4h-8zM315 386h4v4h-4zM207 390h8v4h-8zM315 390h4v4h-4zM207 394h8v4h-8zM315 394h4v4h-4zM207 398h8v4h-8zM315 398h4v4h-4zM207 402h4v4h-4zM311 402h8v4h-8zM207 406h4v4h-4zM311 406h4v4h-4zM207 410h4v4h-4zM311 410h4v4h-4zM207 414h4v4h-4zM311 414h4v4h-4zM207 418h4v4h-4zM311 418h4v4h-4zM207 422h4v4h-4zM311 422h4v4h-4zM207 426h4v4h-4zM311 426h4v4h-4zM207 430h4v4h-4zM311 430h4v4h-4zM207 434h4v4h-4zM307 434h4v4h-4zM207 438h4v4h-4zM307 438h4v4h-4zM211 442h4v4h-4zM307 442h4v4h-4zM211 446h4v4h-4zM215 450h4v4h-4zM303 450h4v4h-4zM219 454h4v4h-4zM303 454h4v4h-4zM223 458h4v4h-4zM303 458h4v4h-4zM227 462h4v4h-4zM299 462h4v4h-4zM231 466h4v4h-4zM299 466h4v4h-4zM295 470h8v4h-8zM295 474h8v4h-8zM235 478h4v4h-4zM295 478h4v4h-4zM235 482h4v4h-4zM295 482h4v4h-4zM235 486h4v4h-4zM295 486h4v4h-4zM295 490h4v4h-4zM291 494h4v4h-4zM239 498h4v4h-4zM291 498h4v4h-4zM239 502h4v4h-4zM291 502h4v4h-4zM291 506h4v4h-4zM291 510h4v4h-4zM291 514h4v4h-4zM243 518h4v4h-4zM243 522h4v4h-4zM287 522h4v4h-4zM243 526h4v4h-4zM287 526h4v4h-4zM243 530h4v4h-4zM287 530h4v4h-4zM243 534h4v4h-4zM287 534h4v4h-4zM287 538h4v4h-4zM287 542h4v4h-4zM247 554h4v4h-4zM247 558h4v4h-4zM283 558h4v4h-4zM247 562h4v4h-4zM283 562h4v4h-4zM247 566h4v4h-4zM283 566h4v4h-4zM247 570h4v4h-4zM283 570h4v4h-4zM283 574h4v4h-4zM283 578h4v4h-4zM251 582h4v4h-4zM283 582h4v4h-4zM251 586h4v4h-4zM283 586h4v4h-4zM251 590h4v4h-4zM283 590h4v4h-4zM251 594h4v4h-4zM251 598h4v4h-4zM267 618h4v4h-4z"/>
<path fill="rgb(53,53,53)" d="M31 134h144v4h-144zM79 138h4v4h-4zM87 138h20v4h-20zM315 138h4v4h-4zM75 142h4v4h-4zM319 142h72v4h-72zM407 142h12v4h-12zM471 142h36v4h-36zM55 146h4v4h-4zM319 146h72v4h-72zM407 146h16v4h-16zM471 146h36v4h-36zM419 150h8v4h-8zM467 150h4v4h-4zM395 154h8v4h-8zM423 154h4v4h-4zM451 154h8v4h-8zM447 158h4v4h-4zM51 162h4v4h-4zM59 162h4v4h-4zM435 162h8v4h-8zM243 214h20v4h-20zM271 214h36v4h-36zM431 214h4v4h-4zM443 218h64v4h-64zM439 258h4v4h-4zM79 262h4v4h-4zM431 262h4v4h-4zM31 266h204v4h-204zM311 266h8v4h-8zM319 270h4v4h-4zM319 274h4v4h-4zM319 278h188v4h-188zM319 282h188v4h-188zM323 286h184v4h-184zM323 290h184v4h-184zM271 294h4v4h-4zM255 298h4v4h-4zM275 298h4v4h-4zM231 338h4v4h-4zM223 346h8v4h-8zM223 350h8v4h-8zM223 354h8v4h-8zM371 354h72v4h-72zM467 354h40v4h-40zM223 358h4v4h-4zM319 358h16v4h-16zM219 362h8v4h-8zM311 362h4v4h-4zM219 366h8v4h-8zM311 366h4v4h-4zM219 370h8v4h-8zM311 370h4v4h-4zM219 374h8v4h-8zM311 374h4v4h-4zM219 378h4v4h-4zM311 378h4v4h-4zM219 382h4v4h-4zM311 382h4v4h-4zM215 386h8v4h-8zM311 386h4v4h-4zM215 390h4v4h-4zM311 390h4v4h-4zM215 394h4v4h-4zM311 394h4v4h-4zM215 398h4v4h-4zM311 398h4v4h-4zM211 402h8v4h-8zM211 406h8v4h-8zM307 406h4v4h-4zM211 410h8v4h-8zM307 410h4v4h-4zM211 414h8v4h-8zM307 414h4v4h-4zM211 418h4v4h-4zM307 418h4v4h-4zM211 422h4v4h-4zM307 422h4v4h-4zM211 426h4v4h-4zM307 426h4v4h-4zM211 430h4v4h-4zM307 430h4v4h-4zM211 434h4v4h-4zM211 438h4v4h-4zM303 438h4v4h-4zM215 442h4v4h-4zM303 442h4v4h-4zM215 446h4v4h-4zM303 446h4v4h-4zM219 450h4v4h-4zM299 450h4v4h-4zM223 454h4v4h-4zM299 454h4v4h-4zM227 458h4v4h-4zM299 458h4v4h-4zM295 462h4v4h-4zM295 466h4v4h-4zM235 470h4v4h-4zM291 470h4v4h-4zM235 474h4v4h-4zM291 474h4v4h-4zM291 478h4v4h-4zM291 482h4v4h-4zM291 486h4v4h-4zM239 490h4v4h-4zM291 490h4v4h-4zM239 494h4v4h-4zM287 498h4v4h-4zM287 502h4v4h-4zM243 506h4v4h-4zM287 506h4v4h-4zM243 510h4v4h-4zM287 510h4v4h-4zM243 514h4v4h-4zM287 514h4v4h-4zM287 518h4v4h-4zM247 530h4v4h-4zM247 534h4v4h-4zM247 538h4v4h-4zM283 538h4v4h-4zM247 542h4v4h-4zM283 542h4v4h-4zM247 546h4v4h-4zM283 546h4v4h-4zM247 550h4v4h-4zM283 550h4v4h-4zM283 554h4v4h-4zM251 566h4v4h-4zM251 570h4v4h-4zM251 574h4v4h-4zM251 578h4v4h-4zM279 594h4v4h-4zM255 598h4v4h-4zM279 598h4v4h-4zM255 602h4v4h-4zM279 602h4v4h-4zM255 606h4v4h-4zM279 606h4v4h-4zM255 610h4v4h-4zM279 610h4v4h-4zM255 614h4v4h-4zM279 614h4v4h-4z"/>
<path fill="rgb(57,57,57)" d="M315 134h4v4h-4zM319 138h76v4h-76zM403 138h20v4h-20zM467 138h40v4h-40zM83 142h4v4h-4zM91 142h4v4h-4zM419 142h8v4h-8zM467 142h4v4h-4zM107 146h4v4h-4zM423 146h4v4h-4zM451 146h4v4h-4zM467 146h4v4h-4zM51 150h4v4h-4zM59 150h4v4h-4zM107 150h4v4h-4zM391 150h4v4h-4zM403 150h4v4h-4zM427 150h4v4h-4zM451 150h4v4h-4zM75 154h4v4h-4zM427 154h4v4h-4zM447 154h4v4h-4zM463 154h4v4h-4zM431 158h8v4h-8zM443 158h4v4h-4zM83 214h4v4h-4zM239 214h4v4h-4zM307 214h4v4h-4zM427 214h4v4h-4zM439 218h4v4h-4zM443 222h64v4h-64zM31 258h28v4h-28zM63 258h8v4h-8zM83 262h4v4h-4zM243 262h16v4h-16zM279 262h32v4h-32zM427 262h4v4h-4zM319 266h188v4h-188zM323 270h184v4h-184zM323 274h184v4h-184zM31 302h200v4h-200zM31 334h196v4h-196zM235 342h4v4h-4zM231 350h4v4h-4zM439 350h36v4h-36zM231 354h4v4h-4zM327 354h44v4h-44zM227 358h4v4h-4zM311 358h8v4h-8zM227 362h4v4h-4zM307 362h4v4h-4zM227 366h4v4h-4zM307 366h4v4h-4zM227 370h4v4h-4zM307 370h4v4h-4zM227 374h4v4h-4zM307 374h4v4h-4zM223 378h4v4h-4zM307 378h4v4h-4zM223 382h4v4h-4zM307 382h4v4h-4zM223 386h4v4h-4zM307 386h4v4h-4zM219 390h8v4h-8zM307 390h4v4h-4zM219 394h4v4h-4zM307 394h4v4h-4zM219 398h4v4h-4zM307 398h4v4h-4zM219 402h4v4h-4zM307 402h4v4h-4zM219 406h4v4h-4zM219 410h4v4h-4zM303 410h4v4h-4zM303 414h4v4h-4zM215 418h4v4h-4zM303 418h4v4h-4zM215 422h4v4h-4zM303 422h4v4h-4zM215 426h4v4h-4zM303 426h4v4h-4zM215 430h4v4h-4zM303 430h4v4h-4zM215 434h4v4h-4zM303 434h4v4h-4zM215 438h4v4h-4zM299 442h4v4h-4zM219 446h4v4h-4zM299 446h4v4h-4zM223 450h4v4h-4zM295 450h4v4h-4zM227 454h4v4h-4zM295 454h4v4h-4zM295 458h4v4h-4zM231 462h4v4h-4zM291 462h4v4h-4zM235 466h4v4h-4zM291 466h4v4h-4zM287 474h4v4h-4zM287 478h4v4h-4zM239 482h4v4h-4zM287 482h4v4h-4zM239 486h4v4h-4zM287 486h4v4h-4zM287 490h4v4h-4zM287 494h4v4h-4zM243 498h4v4h-4zM243 502h4v4h-4zM247 514h4v4h-4zM283 514h4v4h-4zM247 518h4v4h-4zM283 518h4v4h-4zM247 522h4v4h-4zM283 522h4v4h-4zM247 526h4v4h-4zM283 526h4v4h-4zM283 530h4v4h-4zM283 534h4v4h-4zM251 546h4v4h-4zM251 550h4v4h-4zM251 554h4v4h-4zM251 558h4v4h-4zM279 558h4v4h-4zM251 562h4v4h-4zM279 562h4v4h-4zM279 566h4v4h-4zM279 570h4v4h-4zM279 574h4v4h-4zM255 578h4v4h-4zM279 578h4v4h-4zM255 582h4v4h-4zM279 582h4v4h-4zM255 586h4v4h-4zM279 586h4v4h-4zM255 590h4v4h-4zM279 590h4v4h-4zM255 594h4v4h-4z"/>
<path fill="rgb(61,61,61)" d="M319 134h112v4h-112zM451 134h56v4h-56zM423 138h12v4h-12zM447 138h12v4h-12zM463 138h4v4h-4zM79 142h4v4h-4zM87 142h4v4h-4zM95 142h12v4h-12zM391 142h4v4h-4zM403 142h4v4h-4zM427 142h8v4h-8zM447 142h8v4h-8zM391 146h4v4h-4zM403 146h4v4h-4zM427 146h8v4h-8zM447 146h4v4h-4zM431 150h4v4h-4zM447 150h4v4h-4zM83 154h4v4h-4zM431 154h4v4h-4zM443 154h4v4h-4zM459 154h4v4h-4zM439 158h4v4h-4zM87 214h4v4h-4zM235 214h4v4h-4zM311 214h8v4h-8zM31 218h44v4h-44zM247 218h12v4h-12zM275 218h28v4h-28zM247 222h12v4h-12zM275 222h28v4h-28zM439 222h4v4h-4zM247 226h12v4h-12zM275 226h28v4h-28zM443 226h64v4h-64zM247 230h12v4h-12zM275 230h28v4h-28zM247 234h12v4h-12zM275 234h28v4h-28zM247 238h12v4h-12zM275 238h28v4h-28zM247 242h12v4h-12zM279 242h24v4h-24zM247 246h12v4h-12zM279 246h24v4h-24zM247 250h12v4h-12zM279 250h24v4h-24zM247 254h12v4h-12zM279 254h24v4h-24zM443 254h64v4h-64zM59 258h4v4h-4zM71 258h8v4h-8zM247 258h12v4h-12zM279 258h24v4h-24zM435 258h4v4h-4zM239 262h4v4h-4zM275 262h4v4h-4zM311 262h8v4h-8zM259 266h4v4h-4zM231 302h12v4h-12zM295 302h8v4h-8zM227 334h4v4h-4zM235 338h4v4h-4zM231 346h4v4h-4zM347 350h92v4h-92zM475 350h32v4h-32zM307 354h20v4h-20zM231 358h4v4h-4zM307 358h4v4h-4zM231 362h4v4h-4zM303 362h4v4h-4zM231 366h4v4h-4zM303 366h4v4h-4zM231 370h4v4h-4zM303 370h4v4h-4zM303 374h4v4h-4zM227 378h4v4h-4zM303 378h4v4h-4zM227 382h4v4h-4zM303 382h4v4h-4zM227 386h4v4h-4zM303 386h4v4h-4zM303 390h4v4h-4zM223 394h4v4h-4zM303 394h4v4h-4zM223 398h4v4h-4zM303 398h4v4h-4zM223 402h4v4h-4zM303 402h4v4h-4zM223 406h4v4h-4zM303 406h4v4h-4zM219 414h4v4h-4zM219 418h4v4h-4zM299 418h4v4h-4zM219 422h4v4h-4zM299 422h4v4h-4zM219 426h4v4h-4zM299 426h4v4h-4zM219 430h4v4h-4zM299 430h4v4h-4zM219 434h4v4h-4zM299 434h4v4h-4zM299 438h4v4h-4zM219 442h4v4h-4zM295 442h4v4h-4zM223 446h4v4h-4zM295 446h4v4h-4zM291 454h4v4h-4zM231 458h4v4h-4zM291 458h4v4h-4zM287 462h4v4h-4zM287 466h4v4h-4zM287 470h4v4h-4zM239 474h4v4h-4zM239 478h4v4h-4zM283 486h4v4h-4zM283 490h4v4h-4zM243 494h4v4h-4zM283 494h4v4h-4zM283 498h4v4h-4zM283 502h4v4h-4zM283 506h4v4h-4zM247 510h4v4h-4zM283 510h4v4h-4zM251 534h4v4h-4zM251 538h4v4h-4zM279 538h4v4h-4zM251 542h4v4h-4zM279 542h4v4h-4zM279 546h4v4h-4zM279 550h4v4h-4zM279 554h4v4h-4zM255 562h4v4h-4zM255 566h4v4h-4zM255 570h4v4h-4zM255 574h4v4h-4zM275 590h4v4h-4zM275 594h4v4h-4zM275 598h4v4h-4zM259 614h4v4h-4zM275 614h4v4h-4z"/>
<path fill="rgb(65,65,65)" d="M431 134h20v4h-20zM395 138h8v4h-8zM435 138h12v4h-12zM459 138h4v4h-4zM435 142h12v4h-12zM455 142h4v4h-4zM435 146h12v4h-12zM55 150h4v4h-4zM435 150h12v4h-12zM455 150h4v4h-4zM51 154h4v4h-4zM59 154h4v4h-4zM91 154h4v4h-4zM435 154h8v4h-8zM51 158h4v4h-4zM59 158h4v4h-4zM91 214h4v4h-4zM219 214h16v4h-16zM319 214h108v4h-108zM75 218h4v4h-4zM243 218h4v4h-4zM259 218h4v4h-4zM271 218h4v4h-4zM303 218h4v4h-4zM435 218h4v4h-4zM243 222h4v4h-4zM259 222h4v4h-4zM271 222h4v4h-4zM303 222h4v4h-4zM259 226h4v4h-4zM271 226h4v4h-4zM303 226h4v4h-4zM259 230h4v4h-4zM271 230h4v4h-4zM303 230h4v4h-4zM443 230h64v4h-64zM303 234h4v4h-4zM303 238h4v4h-4zM447 238h60v4h-60zM275 242h4v4h-4zM303 242h4v4h-4zM447 242h60v4h-60zM275 246h4v4h-4zM303 246h4v4h-4zM447 246h60v4h-60zM275 250h4v4h-4zM303 250h4v4h-4zM443 250h64v4h-64zM243 254h4v4h-4zM275 254h4v4h-4zM303 254h4v4h-4zM439 254h4v4h-4zM243 258h4v4h-4zM275 258h4v4h-4zM303 258h8v4h-8zM431 258h4v4h-4zM87 262h4v4h-4zM235 262h4v4h-4zM319 262h108v4h-108zM271 290h4v4h-4zM259 298h4v4h-4zM271 298h4v4h-4zM243 302h4v4h-4zM287 302h8v4h-8zM303 302h12v4h-12zM231 334h4v4h-4zM239 342h4v4h-4zM235 346h4v4h-4zM431 346h48v4h-48zM235 350h4v4h-4zM303 350h44v4h-44zM235 354h4v4h-4zM303 354h4v4h-4zM235 358h4v4h-4zM303 358h4v4h-4zM235 362h4v4h-4zM299 370h4v4h-4zM231 374h4v4h-4zM299 374h4v4h-4zM231 378h4v4h-4zM299 378h4v4h-4zM231 382h4v4h-4zM299 382h4v4h-4zM299 386h4v4h-4zM227 390h4v4h-4zM299 390h4v4h-4zM227 394h4v4h-4zM299 394h4v4h-4zM227 398h4v4h-4zM299 398h4v4h-4zM299 402h4v4h-4zM299 406h4v4h-4zM223 410h4v4h-4zM299 410h4v4h-4zM223 414h4v4h-4zM299 414h4v4h-4zM223 418h4v4h-4zM223 422h4v4h-4zM295 422h4v4h-4zM223 426h4v4h-4zM295 426h4v4h-4zM295 430h4v4h-4zM295 434h4v4h-4zM219 438h4v4h-4zM295 438h4v4h-4zM223 442h4v4h-4zM291 446h4v4h-4zM227 450h4v4h-4zM291 450h4v4h-4zM231 454h4v4h-4zM287 458h4v4h-4zM235 462h4v4h-4zM283 466h4v4h-4zM239 470h4v4h-4zM283 470h4v4h-4zM283 474h4v4h-4zM283 478h4v4h-4zM283 482h4v4h-4zM243 486h4v4h-4zM243 490h4v4h-4zM247 502h4v4h-4zM247 506h4v4h-4zM251 518h4v4h-4zM279 518h4v4h-4zM251 522h4v4h-4zM279 522h4v4h-4zM251 526h4v4h-4zM279 526h4v4h-4zM251 530h4v4h-4zM279 530h4v4h-4zM279 534h4v4h-4zM255 546h4v4h-4zM255 550h4v4h-4zM255 554h4v4h-4zM275 554h4v4h-4zM255 558h4v4h-4zM275 558h4v4h-4zM275 562h4v4h-4zM275 566h4v4h-4zM275 570h4v4h-4zM259 574h4v4h-4zM275 574h4v4h-4zM259 578h4v4h-4zM275 578h4v4h-4zM259 582h4v4h-4zM275 582h4v4h-4zM259 586h4v4h-4zM275 586h4v4h-4zM259 590h4v4h-4zM259 594h4v4h-4zM259 598h4v4h-4zM259 602h4v4h-4zM275 602h4v4h-4zM259 606h4v4h-4zM275 606h4v4h-4zM259 610h4v4h-4zM275 610h4v4h-4z"/>
<path fill="rgb(69,69,69)" d="M79 154h4v4h-4zM87 154h4v4h-4zM99 154h8v4h-8zM55 162h4v4h-4zM95 214h124v4h-124zM79 218h4v4h-4zM239 218h4v4h-4zM307 218h4v4h-4zM431 218h4v4h-4zM307 222h4v4h-4zM435 222h4v4h-4zM243 226h4v4h-4zM307 226h4v4h-4zM439 226h4v4h-4zM243 230h4v4h-4zM243 234h4v4h-4zM259 234h4v4h-4zM443 234h64v4h-64zM243 238h4v4h-4zM443 238h4v4h-4zM243 242h4v4h-4zM443 242h4v4h-4zM243 246h4v4h-4zM443 246h4v4h-4zM243 250h4v4h-4zM439 250h4v4h-4zM307 254h4v4h-4zM79 258h4v4h-4zM239 258h4v4h-4zM311 258h4v4h-4zM427 258h4v4h-4zM91 262h4v4h-4zM231 262h4v4h-4zM263 294h4v4h-4zM247 302h4v4h-4zM283 302h4v4h-4zM315 302h192v4h-192zM235 334h4v4h-4zM307 346h4v4h-4zM339 346h92v4h-92zM479 346h28v4h-28zM239 350h4v4h-4zM239 354h4v4h-4zM299 354h4v4h-4zM299 358h4v4h-4zM299 362h4v4h-4zM235 366h4v4h-4zM299 366h4v4h-4zM235 370h4v4h-4zM235 374h4v4h-4zM295 378h4v4h-4zM295 382h4v4h-4zM231 386h4v4h-4zM295 386h4v4h-4zM231 390h4v4h-4zM295 390h4v4h-4zM295 394h4v4h-4zM295 398h4v4h-4zM227 402h4v4h-4zM295 402h4v4h-4zM227 406h4v4h-4zM295 406h4v4h-4zM227 410h4v4h-4zM295 410h4v4h-4zM227 414h4v4h-4zM295 414h4v4h-4zM295 418h4v4h-4zM223 430h4v4h-4zM223 434h4v4h-4zM291 434h4v4h-4zM223 438h4v4h-4zM291 438h4v4h-4zM291 442h4v4h-4zM227 446h4v4h-4zM287 450h4v4h-4zM287 454h4v4h-4zM235 458h4v4h-4zM283 462h4v4h-4zM239 466h4v4h-4zM243 478h4v4h-4zM243 482h4v4h-4zM279 482h4v4h-4zM279 486h4v4h-4zM279 490h4v4h-4zM247 494h4v4h-4zM279 494h4v4h-4zM247 498h4v4h-4zM279 498h4v4h-4zM279 502h4v4h-4zM279 506h4v4h-4zM251 510h4v4h-4zM279 510h4v4h-4zM251 514h4v4h-4zM279 514h4v4h-4zM255 538h4v4h-4zM275 538h4v4h-4zM255 542h4v4h-4zM275 542h4v4h-4zM275 546h4v4h-4zM275 550h4v4h-4zM259 554h4v4h-4zM259 558h4v4h-4zM259 562h4v4h-4zM259 566h4v4h-4zM271 566h4v4h-4zM259 570h4v4h-4zM271 570h4v4h-4zM271 574h4v4h-4zM263 578h4v4h-4zM271 578h4v4h-4zM263 582h4v4h-4zM271 582h4v4h-4zM263 586h4v4h-4zM271 586h4v4h-4zM263 590h4v4h-4zM271 590h4v4h-4zM263 594h4v4h-4zM271 594h4v4h-4z"/>
<path fill="rgb(73,73,73)" d="M463 142h4v4h-4zM75 146h4v4h-4zM455 146h4v4h-4zM95 154h4v4h-4zM263 214h8v4h-8zM311 218h4v4h-4zM311 222h4v4h-4zM431 222h4v4h-4zM435 226h4v4h-4zM307 230h4v4h-4zM439 230h4v4h-4zM271 234h4v4h-4zM307 234h4v4h-4zM439 234h4v4h-4zM259 238h4v4h-4zM307 238h4v4h-4zM439 238h4v4h-4zM259 242h4v4h-4zM307 242h4v4h-4zM439 242h4v4h-4zM307 246h4v4h-4zM439 246h4v4h-4zM307 250h4v4h-4zM31 254h28v4h-28zM67 254h8v4h-8zM239 254h4v4h-4zM435 254h4v4h-4zM83 258h4v4h-4zM315 258h4v4h-4zM95 262h136v4h-136zM259 262h4v4h-4zM271 286h4v4h-4zM279 302h4v4h-4zM31 330h200v4h-200zM239 338h4v4h-4zM243 342h4v4h-4zM303 342h16v4h-16zM423 342h64v4h-64zM239 346h4v4h-4zM303 346h4v4h-4zM311 346h28v4h-28zM299 350h4v4h-4zM239 358h4v4h-4zM239 362h4v4h-4zM295 362h4v4h-4zM239 366h4v4h-4zM295 366h4v4h-4zM295 370h4v4h-4zM295 374h4v4h-4zM235 378h4v4h-4zM235 382h4v4h-4zM231 394h4v4h-4zM231 398h4v4h-4zM231 402h4v4h-4zM291 402h4v4h-4zM291 406h4v4h-4zM291 410h4v4h-4zM291 414h4v4h-4zM227 418h4v4h-4zM291 418h4v4h-4zM227 422h4v4h-4zM291 422h4v4h-4zM227 426h4v4h-4zM291 426h4v4h-4zM227 430h4v4h-4zM291 430h4v4h-4zM227 442h4v4h-4zM287 442h4v4h-4zM287 446h4v4h-4zM231 450h4v4h-4zM235 454h4v4h-4zM283 454h4v4h-4zM283 458h4v4h-4zM239 462h4v4h-4zM279 466h4v4h-4zM243 470h4v4h-4zM279 470h4v4h-4zM243 474h4v4h-4zM279 474h4v4h-4zM279 478h4v4h-4zM247 486h4v4h-4zM247 490h4v4h-4zM251 502h4v4h-4zM251 506h4v4h-4zM275 530h4v4h-4zM255 534h4v4h-4zM275 534h4v4h-4zM259 546h4v4h-4zM259 550h4v4h-4zM271 550h4v4h-4zM271 554h4v4h-4zM263 558h12v4h-12zM263 562h12v4h-12zM263 566h8v4h-8zM263 570h8v4h-8zM263 574h8v4h-8zM267 578h4v4h-4zM267 582h4v4h-4zM267 586h4v4h-4zM267 590h4v4h-4zM267 594h4v4h-4zM263 598h4v4h-4zM271 598h4v4h-4zM271 614h4v4h-4z"/>
<path fill="rgb(77,77,77)" d="M83 146h4v4h-4zM83 218h4v4h-4zM235 218h4v4h-4zM315 218h4v4h-4zM427 218h4v4h-4zM31 222h40v4h-40zM239 222h4v4h-4zM239 226h4v4h-4zM311 226h4v4h-4zM431 226h4v4h-4zM239 230h4v4h-4zM435 230h4v4h-4zM239 234h4v4h-4zM239 238h4v4h-4zM271 238h4v4h-4zM435 238h4v4h-4zM239 242h4v4h-4zM435 242h4v4h-4zM239 246h4v4h-4zM259 246h4v4h-4zM435 246h4v4h-4zM239 250h4v4h-4zM259 250h4v4h-4zM311 250h4v4h-4zM435 250h4v4h-4zM59 254h8v4h-8zM75 254h4v4h-4zM259 254h4v4h-4zM311 254h4v4h-4zM431 254h4v4h-4zM235 258h4v4h-4zM259 258h4v4h-4zM319 258h108v4h-108zM271 270h4v4h-4zM271 274h4v4h-4zM271 278h4v4h-4zM271 282h4v4h-4zM263 298h8v4h-8zM251 302h4v4h-4zM295 306h12v4h-12zM231 330h8v4h-8zM239 334h4v4h-4zM299 342h4v4h-4zM319 342h104v4h-104zM487 342h20v4h-20zM299 346h4v4h-4zM243 350h4v4h-4zM243 354h4v4h-4zM295 358h4v4h-4zM291 366h4v4h-4zM239 370h4v4h-4zM291 370h4v4h-4zM239 374h4v4h-4zM291 374h4v4h-4zM291 378h4v4h-4zM291 382h4v4h-4zM235 386h4v4h-4zM291 386h4v4h-4zM235 390h4v4h-4zM291 390h4v4h-4zM291 394h4v4h-4zM291 398h4v4h-4zM231 406h4v4h-4zM231 410h4v4h-4zM231 414h4v4h-4zM287 422h4v4h-4zM287 426h4v4h-4zM287 430h4v4h-4zM227 434h4v4h-4zM287 434h4v4h-4zM227 438h4v4h-4zM287 438h4v4h-4zM231 446h4v4h-4zM283 450h4v4h-4zM239 458h4v4h-4zM279 462h4v4h-4zM243 466h4v4h-4zM247 478h4v4h-4zM275 478h4v4h-4zM247 482h4v4h-4zM275 482h4v4h-4zM275 486h4v4h-4zM275 490h4v4h-4zM251 494h4v4h-4zM275 494h4v4h-4zM251 498h4v4h-4zM275 498h4v4h-4zM275 502h4v4h-4zM275 506h4v4h-4zM275 510h4v4h-4zM275 514h4v4h-4zM275 518h4v4h-4zM275 522h4v4h-4zM275 526h4v4h-4zM255 530h4v4h-4zM271 538h4v4h-4zM259 542h4v4h-4zM271 542h4v4h-4zM263 546h12v4h-12zM263 550h8v4h-8zM263 554h8v4h-8zM267 598h4v4h-4zM271 602h4v4h-4zM263 614h4v4h-4z"/>
<path fill="rgb(81,81,81)" d="M75 150h4v4h-4zM463 150h4v4h-4zM55 154h4v4h-4zM87 218h4v4h-4zM319 218h108v4h-108zM71 222h8v4h-8zM315 222h4v4h-4zM427 222h4v4h-4zM311 230h4v4h-4zM431 230h4v4h-4zM311 234h4v4h-4zM435 234h4v4h-4zM311 238h4v4h-4zM311 242h4v4h-4zM311 246h4v4h-4zM431 250h4v4h-4zM79 254h4v4h-4zM87 258h4v4h-4zM231 258h4v4h-4zM267 294h4v4h-4zM255 302h4v4h-4zM275 302h4v4h-4zM31 306h216v4h-216zM287 306h8v4h-8zM307 306h200v4h-200zM291 310h28v4h-28zM299 326h12v4h-12zM239 330h4v4h-4zM295 330h16v4h-16zM243 334h4v4h-4zM299 334h12v4h-12zM243 338h4v4h-4zM303 338h204v4h-204zM247 342h4v4h-4zM243 346h4v4h-4zM247 350h4v4h-4zM295 354h4v4h-4zM243 358h4v4h-4zM243 362h4v4h-4zM291 362h4v4h-4zM243 366h4v4h-4zM287 374h4v4h-4zM239 378h4v4h-4zM287 378h4v4h-4zM239 382h4v4h-4zM287 382h4v4h-4zM287 386h4v4h-4zM287 390h4v4h-4zM235 394h4v4h-4zM287 394h4v4h-4zM235 398h4v4h-4zM287 398h4v4h-4zM235 402h4v4h-4zM287 402h4v4h-4zM287 406h4v4h-4zM287 410h4v4h-4zM287 414h4v4h-4zM231 418h4v4h-4zM287 418h4v4h-4zM231 422h4v4h-4zM231 426h4v4h-4zM231 430h4v4h-4zM231 442h4v4h-4zM283 442h4v4h-4zM283 446h4v4h-4zM235 450h4v4h-4zM279 454h4v4h-4zM279 458h4v4h-4zM275 466h4v4h-4zM247 470h4v4h-4zM275 470h4v4h-4zM247 474h4v4h-4zM275 474h4v4h-4zM251 486h4v4h-4zM251 490h4v4h-4zM255 498h4v4h-4zM255 502h4v4h-4zM255 506h4v4h-4zM255 510h4v4h-4zM255 514h4v4h-4zM255 518h4v4h-4zM255 522h4v4h-4zM255 526h4v4h-4zM271 534h4v4h-4zM259 538h4v4h-4zM263 542h8v4h-8zM263 602h4v4h-4zM271 606h4v4h-4zM271 610h4v4h-4z"/>
<path fill="rgb(85,85,85)" d="M459 142h4v4h-4zM91 146h4v4h-4zM83 150h4v4h-4zM55 158h4v4h-4zM91 218h4v4h-4zM231 218h4v4h-4zM235 222h4v4h-4zM319 222h108v4h-108zM315 226h4v4h-4zM427 226h4v4h-4zM315 230h4v4h-4zM431 234h4v4h-4zM431 238h4v4h-4zM271 242h4v4h-4zM431 242h4v4h-4zM431 246h4v4h-4zM315 250h4v4h-4zM235 254h4v4h-4zM315 254h4v4h-4zM427 254h4v4h-4zM91 258h4v4h-4zM271 302h4v4h-4zM247 306h4v4h-4zM283 306h4v4h-4zM235 310h12v4h-12zM287 310h4v4h-4zM319 310h188v4h-188zM295 314h212v4h-212zM311 318h196v4h-196zM295 322h24v4h-24zM31 326h216v4h-216zM291 326h8v4h-8zM311 326h8v4h-8zM243 330h4v4h-4zM311 330h4v4h-4zM295 334h4v4h-4zM311 334h4v4h-4zM299 338h4v4h-4zM251 342h4v4h-4zM247 346h4v4h-4zM247 354h4v4h-4zM247 358h4v4h-4zM291 358h4v4h-4zM287 366h4v4h-4zM243 370h4v4h-4zM287 370h4v4h-4zM243 374h4v4h-4zM239 386h4v4h-4zM239 390h4v4h-4zM239 394h4v4h-4zM235 406h4v4h-4zM283 406h4v4h-4zM235 410h4v4h-4zM283 410h4v4h-4zM235 414h4v4h-4zM283 414h4v4h-4zM283 418h4v4h-4zM283 422h4v4h-4zM283 426h4v4h-4zM283 430h4v4h-4zM231 434h4v4h-4zM283 434h4v4h-4zM231 438h4v4h-4zM283 438h4v4h-4zM235 446h4v4h-4zM279 450h4v4h-4zM239 454h4v4h-4zM275 458h4v4h-4zM243 462h4v4h-4zM275 462h4v4h-4zM247 466h4v4h-4zM271 474h4v4h-4zM251 478h4v4h-4zM271 478h4v4h-4zM251 482h4v4h-4zM271 482h4v4h-4zM271 486h4v4h-4zM255 490h4v4h-4zM271 490h4v4h-4zM255 494h4v4h-4zM271 494h4v4h-4zM271 498h4v4h-4zM271 502h4v4h-4zM271 506h4v4h-4zM271 510h4v4h-4zM271 530h4v4h-4zM259 534h4v4h-4zM263 538h8v4h-8zM267 614h4v4h-4z"/>
<path fill="rgb(89,89,89)" d="M79 146h4v4h-4zM103 146h4v4h-4zM395 150h8v4h-8zM95 218h136v4h-136zM263 218h8v4h-8zM79 222h4v4h-4zM31 226h44v4h-44zM319 226h108v4h-108zM31 230h44v4h-44zM427 230h4v4h-4zM31 234h24v4h-24zM71 234h4v4h-4zM315 234h4v4h-4zM31 238h20v4h-20zM71 238h4v4h-4zM315 238h4v4h-4zM427 238h4v4h-4zM31 242h20v4h-20zM71 242h4v4h-4zM315 242h4v4h-4zM427 242h4v4h-4zM31 246h20v4h-20zM71 246h4v4h-4zM315 246h4v4h-4zM427 246h4v4h-4zM31 250h24v4h-24zM71 250h4v4h-4zM427 250h4v4h-4zM83 254h4v4h-4zM319 254h108v4h-108zM95 258h136v4h-136zM271 266h4v4h-4zM263 290h4v4h-4zM259 302h4v4h-4zM279 306h4v4h-4zM231 310h4v4h-4zM247 310h4v4h-4zM283 310h4v4h-4zM243 314h4v4h-4zM287 314h8v4h-8zM295 318h16v4h-16zM239 322h8v4h-8zM291 322h4v4h-4zM319 322h188v4h-188zM247 326h4v4h-4zM319 326h188v4h-188zM247 330h4v4h-4zM291 330h4v4h-4zM315 330h192v4h-192zM247 334h4v4h-4zM315 334h192v4h-192zM247 338h4v4h-4zM295 338h4v4h-4zM295 342h4v4h-4zM251 350h4v4h-4zM295 350h4v4h-4zM251 354h4v4h-4zM247 362h4v4h-4zM287 362h4v4h-4zM247 366h4v4h-4zM283 370h4v4h-4zM283 374h4v4h-4zM243 378h4v4h-4zM283 378h4v4h-4zM243 382h4v4h-4zM283 382h4v4h-4zM243 386h4v4h-4zM283 386h4v4h-4zM283 390h4v4h-4zM283 394h4v4h-4zM239 398h4v4h-4zM283 398h4v4h-4zM239 402h4v4h-4zM283 402h4v4h-4zM235 418h4v4h-4zM235 422h4v4h-4zM235 426h4v4h-4zM235 442h4v4h-4zM279 442h4v4h-4zM279 446h4v4h-4zM239 450h4v4h-4zM275 454h4v4h-4zM243 458h4v4h-4zM271 466h4v4h-4zM251 470h4v4h-4zM271 470h4v4h-4zM251 474h4v4h-4zM255 482h4v4h-4zM267 482h4v4h-4zM255 486h4v4h-4zM267 486h4v4h-4zM259 490h4v4h-4zM267 490h4v4h-4zM259 494h4v4h-4zM267 494h4v4h-4zM259 498h12v4h-12zM259 502h12v4h-12zM259 506h4v4h-4zM267 506h4v4h-4zM259 510h4v4h-4zM271 514h4v4h-4zM271 518h4v4h-4zM271 526h4v4h-4zM267 602h4v4h-4zM263 606h4v4h-4zM263 610h4v4h-4z"/>
<path fill="rgb(93,93,93)" d="M395 142h8v4h-8zM87 146h4v4h-4zM99 146h4v4h-4zM463 146h4v4h-4zM91 150h4v4h-4zM83 222h4v4h-4zM263 222h8v4h-8zM75 226h4v4h-4zM235 226h4v4h-4zM263 226h8v4h-8zM75 230h4v4h-4zM235 230h4v4h-4zM263 230h8v4h-8zM319 230h108v4h-108zM67 234h4v4h-4zM75 234h4v4h-4zM235 234h4v4h-4zM427 234h4v4h-4zM51 238h4v4h-4zM75 238h4v4h-4zM235 238h4v4h-4zM319 238h4v4h-4zM51 242h4v4h-4zM75 242h4v4h-4zM235 242h4v4h-4zM319 242h4v4h-4zM51 246h4v4h-4zM75 246h4v4h-4zM235 246h4v4h-4zM271 246h4v4h-4zM319 246h4v4h-4zM67 250h4v4h-4zM75 250h4v4h-4zM235 250h4v4h-4zM319 250h108v4h-108zM87 254h4v4h-4zM231 254h4v4h-4zM263 302h8v4h-8zM251 306h4v4h-4zM31 310h200v4h-200zM251 310h4v4h-4zM279 310h4v4h-4zM235 314h8v4h-8zM247 314h4v4h-4zM243 318h4v4h-4zM291 318h4v4h-4zM231 322h8v4h-8zM247 322h4v4h-4zM287 322h4v4h-4zM287 326h4v4h-4zM251 330h4v4h-4zM287 330h4v4h-4zM251 334h4v4h-4zM291 334h4v4h-4zM255 342h4v4h-4zM251 346h4v4h-4zM295 346h4v4h-4zM251 358h4v4h-4zM251 362h4v4h-4zM283 366h4v4h-4zM247 370h4v4h-4zM247 374h4v4h-4zM247 378h4v4h-4zM279 382h4v4h-4zM279 386h4v4h-4zM243 390h4v4h-4zM279 390h4v4h-4zM243 394h4v4h-4zM279 394h4v4h-4zM279 398h4v4h-4zM279 402h4v4h-4zM239 406h4v4h-4zM279 406h4v4h-4zM239 410h4v4h-4zM279 410h4v4h-4zM279 414h4v4h-4zM235 430h4v4h-4zM235 434h4v4h-4zM279 434h4v4h-4zM235 438h4v4h-4zM279 438h4v4h-4zM239 446h4v4h-4zM275 450h4v4h-4zM243 454h4v4h-4zM271 458h4v4h-4zM247 462h4v4h-4zM271 462h4v4h-4zM251 466h4v4h-4zM267 466h4v4h-4zM255 470h4v4h-4zM267 470h4v4h-4zM255 474h4v4h-4zM267 474h4v4h-4zM255 478h16v4h-16zM259 482h8v4h-8zM259 486h8v4h-8zM263 490h4v4h-4zM263 494h4v4h-4zM263 506h4v4h-4zM267 510h4v4h-4zM271 522h4v4h-4zM259 530h4v4h-4zM263 534h8v4h-8z"/>
<path fill="rgb(97,97,97)" d="M95 146h4v4h-4zM231 222h4v4h-4zM79 226h4v4h-4zM79 230h4v4h-4zM55 234h4v4h-4zM79 234h4v4h-4zM319 234h108v4h-108zM67 238h4v4h-4zM79 238h4v4h-4zM323 238h104v4h-104zM79 242h4v4h-4zM323 242h104v4h-104zM67 246h4v4h-4zM79 246h4v4h-4zM323 246h104v4h-104zM55 250h4v4h-4zM79 250h4v4h-4zM255 306h4v4h-4zM275 306h4v4h-4zM231 314h4v4h-4zM251 314h4v4h-4zM283 314h4v4h-4zM239 318h4v4h-4zM247 318h4v4h-4zM287 318h4v4h-4zM31 322h200v4h-200zM251 322h4v4h-4zM283 322h4v4h-4zM251 326h4v4h-4zM283 326h4v4h-4zM251 338h4v4h-4zM259 342h4v4h-4zM255 346h4v4h-4zM255 350h4v4h-4zM255 354h4v4h-4zM255 358h4v4h-4zM283 362h4v4h-4zM251 366h4v4h-4zM279 366h4v4h-4zM251 370h4v4h-4zM279 370h4v4h-4zM251 374h4v4h-4zM279 374h4v4h-4zM279 378h4v4h-4zM247 382h4v4h-4zM247 386h4v4h-4zM243 398h4v4h-4zM243 402h4v4h-4zM239 414h4v4h-4zM239 418h4v4h-4zM279 418h4v4h-4zM279 422h4v4h-4zM279 426h4v4h-4zM279 430h4v4h-4zM275 446h4v4h-4zM243 450h4v4h-4zM271 454h4v4h-4zM247 458h4v4h-4zM251 462h4v4h-4zM267 462h4v4h-4zM255 466h4v4h-4zM263 466h4v4h-4zM259 470h8v4h-8zM259 474h8v4h-8zM263 510h4v4h-4zM259 514h4v4h-4zM267 606h4v4h-4zM267 610h4v4h-4z"/>
<path fill="rgb(101,101,101)" d="M79 150h4v4h-4zM103 150h4v4h-4zM459 150h4v4h-4zM87 222h4v4h-4zM83 226h4v4h-4zM83 230h4v4h-4zM63 234h4v4h-4zM83 234h4v4h-4zM83 238h4v4h-4zM67 242h4v4h-4zM83 242h4v4h-4zM83 246h4v4h-4zM63 250h4v4h-4zM83 250h4v4h-4zM91 254h4v4h-4zM227 254h4v4h-4zM271 262h4v4h-4zM255 310h4v4h-4zM275 310h4v4h-4zM31 314h200v4h-200zM279 314h4v4h-4zM231 318h8v4h-8zM251 318h4v4h-4zM283 318h4v4h-4zM255 326h4v4h-4zM255 330h4v4h-4zM283 330h4v4h-4zM255 334h4v4h-4zM287 334h4v4h-4zM255 338h4v4h-4zM259 350h4v4h-4zM291 354h4v4h-4zM287 358h4v4h-4zM255 362h4v4h-4zM279 362h4v4h-4zM255 366h4v4h-4zM255 370h4v4h-4zM275 370h4v4h-4zM275 374h4v4h-4zM251 378h4v4h-4zM275 378h4v4h-4zM251 382h4v4h-4zM275 382h4v4h-4zM251 386h4v4h-4zM275 386h4v4h-4zM247 390h4v4h-4zM275 390h4v4h-4zM247 394h4v4h-4zM275 394h4v4h-4zM247 398h4v4h-4zM275 398h4v4h-4zM275 402h4v4h-4zM243 406h4v4h-4zM275 406h4v4h-4zM243 410h4v4h-4zM275 410h4v4h-4zM239 422h4v4h-4zM239 426h4v4h-4zM239 430h4v4h-4zM239 434h4v4h-4zM239 442h4v4h-4zM275 442h4v4h-4zM271 450h4v4h-4zM247 454h4v4h-4zM251 458h4v4h-4zM267 458h4v4h-4zM255 462h4v4h-4zM263 462h4v4h-4zM259 466h4v4h-4zM267 514h4v4h-4zM259 518h4v4h-4zM259 526h4v4h-4zM267 530h4v4h-4z"/>
<path fill="rgb(105,105,105)" d="M87 150h4v4h-4zM99 150h4v4h-4zM91 222h4v4h-4zM227 222h4v4h-4zM231 226h4v4h-4zM231 230h4v4h-4zM59 234h4v4h-4zM231 234h4v4h-4zM263 234h4v4h-4zM231 238h4v4h-4zM231 242h4v4h-4zM231 246h4v4h-4zM59 250h4v4h-4zM231 250h4v4h-4zM271 250h4v4h-4zM95 254h132v4h-132zM271 254h4v4h-4zM271 258h4v4h-4zM263 286h4v4h-4zM267 290h4v4h-4zM259 306h4v4h-4zM271 306h4v4h-4zM259 310h4v4h-4zM255 314h4v4h-4zM227 318h4v4h-4zM255 322h4v4h-4zM279 322h4v4h-4zM279 326h4v4h-4zM279 330h4v4h-4zM291 338h4v4h-4zM263 342h4v4h-4zM259 346h4v4h-4zM259 354h4v4h-4zM259 358h4v4h-4zM259 362h4v4h-4zM275 362h4v4h-4zM259 366h4v4h-4zM271 366h8v4h-8zM259 370h4v4h-4zM271 370h4v4h-4zM255 374h4v4h-4zM271 374h4v4h-4zM255 378h4v4h-4zM271 378h4v4h-4zM255 382h4v4h-4zM271 382h4v4h-4zM255 386h4v4h-4zM271 386h4v4h-4zM251 390h4v4h-4zM271 390h4v4h-4zM251 394h4v4h-4zM271 394h4v4h-4zM271 398h4v4h-4zM247 402h4v4h-4zM271 402h4v4h-4zM243 414h4v4h-4zM275 414h4v4h-4zM243 418h4v4h-4zM275 418h4v4h-4zM275 422h4v4h-4zM275 426h4v4h-4zM275 430h4v4h-4zM275 434h4v4h-4zM239 438h4v4h-4zM275 438h4v4h-4zM243 446h4v4h-4zM271 446h4v4h-4zM247 450h4v4h-4zM267 454h4v4h-4zM255 458h4v4h-4zM263 458h4v4h-4zM259 462h4v4h-4zM263 514h4v4h-4zM259 522h4v4h-4zM263 530h4v4h-4z"/>
<path fill="rgb(109,109,109)" d="M95 150h4v4h-4zM95 222h132v4h-132zM87 226h4v4h-4zM87 230h4v4h-4zM87 234h4v4h-4zM267 234h4v4h-4zM55 238h4v4h-4zM87 238h4v4h-4zM87 242h4v4h-4zM55 246h4v4h-4zM87 246h4v4h-4zM87 250h4v4h-4zM263 306h8v4h-8zM263 310h4v4h-4zM271 310h4v4h-4zM275 314h4v4h-4zM31 318h196v4h-196zM255 318h4v4h-4zM279 318h4v4h-4zM259 326h4v4h-4zM275 326h4v4h-4zM259 330h4v4h-4zM259 334h4v4h-4zM259 338h4v4h-4zM263 350h4v4h-4zM263 354h4v4h-4zM263 358h4v4h-4zM263 362h12v4h-12zM263 366h8v4h-8zM263 370h8v4h-8zM259 374h12v4h-12zM259 378h12v4h-12zM259 382h12v4h-12zM259 386h12v4h-12zM255 390h16v4h-16zM255 394h4v4h-4zM267 394h4v4h-4zM251 398h4v4h-4zM267 398h4v4h-4zM251 402h4v4h-4zM247 406h4v4h-4zM271 406h4v4h-4zM247 410h4v4h-4zM271 410h4v4h-4zM243 422h4v4h-4zM243 426h4v4h-4zM243 442h4v4h-4zM271 442h4v4h-4zM267 450h4v4h-4zM251 454h8v4h-8zM263 454h4v4h-4zM259 458h4v4h-4zM267 518h4v4h-4zM267 522h4v4h-4zM267 526h4v4h-4z"/>
<path fill="rgb(113,113,113)" d="M91 226h4v4h-4zM227 226h4v4h-4zM91 230h4v4h-4zM227 230h4v4h-4zM91 234h4v4h-4zM227 234h4v4h-4zM91 238h4v4h-4zM227 238h4v4h-4zM91 242h4v4h-4zM227 242h4v4h-4zM91 246h4v4h-4zM227 246h4v4h-4zM91 250h4v4h-4zM227 250h4v4h-4zM267 310h4v4h-4zM259 314h4v4h-4zM271 314h4v4h-4zM275 318h4v4h-4zM259 322h4v4h-4zM275 322h4v4h-4zM263 326h4v4h-4zM271 326h4v4h-4zM263 330h16v4h-16zM263 334h4v4h-4zM283 334h4v4h-4zM263 338h4v4h-4zM291 342h4v4h-4zM263 346h4v4h-4zM267 358h4v4h-4zM283 358h4v4h-4zM259 394h8v4h-8zM255 398h12v4h-12zM255 402h4v4h-4zM263 402h8v4h-8zM251 406h4v4h-4zM267 406h4v4h-4zM247 414h4v4h-4zM271 414h4v4h-4zM271 418h4v4h-4zM243 430h4v4h-4zM243 434h4v4h-4zM243 438h4v4h-4zM271 438h4v4h-4zM247 446h4v4h-4zM267 446h4v4h-4zM251 450h4v4h-4zM263 450h4v4h-4zM259 454h4v4h-4zM263 518h4v4h-4z"/>
<path fill="rgb(117,117,117)" d="M395 146h8v4h-8zM459 146h4v4h-4zM95 226h132v4h-132zM95 230h132v4h-132zM95 234h132v4h-132zM95 238h132v4h-132zM263 238h4v4h-4zM55 242h4v4h-4zM95 242h132v4h-132zM95 246h132v4h-132zM95 250h132v4h-132zM263 270h4v4h-4zM263 274h4v4h-4zM263 278h4v4h-4zM263 282h4v4h-4zM263 314h8v4h-8zM259 318h4v4h-4zM263 322h12v4h-12zM267 326h4v4h-4zM267 334h4v4h-4zM279 334h4v4h-4zM267 342h4v4h-4zM291 350h4v4h-4zM267 354h4v4h-4zM271 358h4v4h-4zM259 402h4v4h-4zM255 406h12v4h-12zM251 410h4v4h-4zM267 410h4v4h-4zM267 414h4v4h-4zM247 418h4v4h-4zM247 422h4v4h-4zM271 422h4v4h-4zM271 426h4v4h-4zM271 430h4v4h-4zM271 434h4v4h-4zM247 442h4v4h-4zM267 442h4v4h-4zM251 446h4v4h-4zM255 450h8v4h-8zM263 526h4v4h-4z"/>
<path fill="rgb(121,121,121)" d="M63 238h4v4h-4zM63 246h4v4h-4zM263 318h12v4h-12zM271 334h8v4h-8zM267 338h4v4h-4zM267 350h4v4h-4zM275 358h8v4h-8zM255 410h12v4h-12zM251 414h4v4h-4zM251 418h4v4h-4zM267 418h4v4h-4zM247 426h4v4h-4zM247 430h4v4h-4zM247 434h4v4h-4zM247 438h4v4h-4zM267 438h4v4h-4zM255 446h12v4h-12zM263 522h4v4h-4z"/>
<path fill="rgb(125,125,125)" d="M267 238h4v4h-4zM263 242h4v4h-4zM287 338h4v4h-4zM291 346h4v4h-4zM255 414h12v4h-12zM263 418h4v4h-4zM251 422h4v4h-4zM267 422h4v4h-4zM267 426h4v4h-4zM267 430h4v4h-4zM267 434h4v4h-4zM251 442h4v4h-4zM263 442h4v4h-4z"/>
<path fill="rgb(130,130,130)" d="M59 238h4v4h-4zM59 246h4v4h-4zM263 266h4v4h-4zM267 286h4v4h-4zM271 338h4v4h-4zM267 346h4v4h-4zM271 354h4v4h-4zM287 354h4v4h-4zM255 418h8v4h-8zM255 422h4v4h-4zM263 422h4v4h-4zM251 426h4v4h-4zM251 430h4v4h-4zM251 434h4v4h-4zM251 438h4v4h-4zM263 438h4v4h-4zM255 442h8v4h-8z"/>
<path fill="rgb(134,134,134)" d="M63 242h4v4h-4zM259 422h4v4h-4zM255 426h12v4h-12zM255 430h4v4h-4zM263 430h4v4h-4zM255 434h12v4h-12zM255 438h8v4h-8z"/>
<path fill="rgb(138,138,138)" d="M263 246h4v4h-4zM271 342h4v4h-4zM259 430h4v4h-4z"/>
<path fill="rgb(142,142,142)" d="M267 242h4v4h-4zM263 262h4v4h-4zM275 338h4v4h-4zM283 338h4v4h-4z"/>
<path fill="rgb(146,146,146)" d="M59 242h4v4h-4zM263 250h4v4h-4zM263 254h4v4h-4zM263 258h4v4h-4zM279 338h4v4h-4zM287 342h4v4h-4zM271 350h4v4h-4zM275 354h4v4h-4z"/>
<path fill="rgb(150,150,150)" d="M267 270h4v4h-4zM267 274h4v4h-4zM267 278h4v4h-4zM267 282h4v4h-4zM283 354h4v4h-4z"/>
<path fill="rgb(158,158,158)" d="M271 346h4v4h-4zM279 354h4v4h-4z"/>
<path fill="rgb(162,162,162)" d="M267 246h4v4h-4zM267 266h4v4h-4zM287 350h4v4h-4z"/>
<path fill="rgb(166,166,166)" d="M275 342h4v4h-4z"/>
<path fill="rgb(174,174,174)" d="M267 262h4v4h-4zM287 346h4v4h-4z"/>
<path fill="rgb(178,178,178)" d="M267 250h4v4h-4zM267 254h4v4h-4zM267 258h4v4h-4zM283 342h4v4h-4zM275 350h4v4h-4z"/>
<path fill="rgb(182,182,182)" d="M279 342h4v4h-4z"/>
<path fill="rgb(194,194,194)" d="M275 346h4v4h-4zM283 350h4v4h-4z"/>
<path fill="rgb(202,202,202)" d="M279 350h4v4h-4z"/>
<path fill="rgb(215,215,215)" d="M283 346h4v4h-4z"/>
<path fill="rgb(223,223,223)" d="M279 346h4v4h-4z"/>
<linearGradient id="stg" x1="0" y1="0" x2="0" y2="1"><stop offset="0" stop-color="rgb(0,0,0)"/><stop offset="0.06" stop-color="rgb(150,150,150)"/><stop offset="0.3" stop-color="rgb(130,130,130)"/><stop offset="0.85" stop-color="rgb(95,95,95)"/><stop offset="1" stop-color="rgb(60,60,60)"/></linearGradient>
<rect x="265.5" y="126" width="3" height="90" fill="url(#stg)"/>
</g></g>
<text x="7" y="61" font-size="9" text-anchor="start" font-weight="normal" fill="#000" stroke="#000" stroke-width="0.2" textLength="29" lengthAdjust="spacingAndGlyphs" >TRCIDX</text>
<text x="266.7" y="48.5" font-size="9" text-anchor="middle" font-weight="normal" fill="#000" stroke="#000" stroke-width="0.2" textLength="49" lengthAdjust="spacingAndGlyphs" >Trace [Trace]</text>
<rect x="55" y="69" width="425" height="1" fill="#000"/>
<rect x="55" y="63" width="1" height="7" fill="#000"/>
<rect x="70" y="67" width="1" height="3" fill="#000"/>
<rect x="85" y="67" width="1" height="3" fill="#000"/>
<rect x="100" y="67" width="1" height="3" fill="#000"/>
<rect x="115" y="63" width="1" height="7" fill="#000"/>
<rect x="131" y="67" width="1" height="3" fill="#000"/>
<rect x="146" y="67" width="1" height="3" fill="#000"/>
<rect x="161" y="67" width="1" height="3" fill="#000"/>
<rect x="176" y="63" width="1" height="7" fill="#000"/>
<rect x="191" y="67" width="1" height="3" fill="#000"/>
<rect x="206" y="67" width="1" height="3" fill="#000"/>
<rect x="221" y="67" width="1" height="3" fill="#000"/>
<rect x="236" y="63" width="1" height="7" fill="#000"/>
<rect x="251" y="67" width="1" height="3" fill="#000"/>
<rect x="266" y="67" width="1" height="3" fill="#000"/>
<rect x="282" y="67" width="1" height="3" fill="#000"/>
<rect x="297" y="63" width="1" height="7" fill="#000"/>
<rect x="312" y="67" width="1" height="3" fill="#000"/>
<rect x="327" y="67" width="1" height="3" fill="#000"/>
<rect x="342" y="67" width="1" height="3" fill="#000"/>
<rect x="357" y="63" width="1" height="7" fill="#000"/>
<rect x="372" y="67" width="1" height="3" fill="#000"/>
<rect x="387" y="67" width="1" height="3" fill="#000"/>
<rect x="402" y="67" width="1" height="3" fill="#000"/>
<rect x="418" y="63" width="1" height="7" fill="#000"/>
<rect x="433" y="67" width="1" height="3" fill="#000"/>
<rect x="448" y="67" width="1" height="3" fill="#000"/>
<rect x="463" y="67" width="1" height="3" fill="#000"/>
<rect x="478" y="63" width="1" height="7" fill="#000"/>
<text x="54.8" y="61" font-size="9.5" text-anchor="start" font-weight="normal" fill="#000" stroke="#000" stroke-width="0.2" textLength="4.7" lengthAdjust="spacingAndGlyphs" >1</text>
<text x="114.5" y="61" font-size="9.5" text-anchor="middle" font-weight="normal" fill="#000" stroke="#000" stroke-width="0.2" textLength="9.4" lengthAdjust="spacingAndGlyphs" >41</text>
<text x="175.5" y="61" font-size="9.5" text-anchor="middle" font-weight="normal" fill="#000" stroke="#000" stroke-width="0.2" textLength="9.4" lengthAdjust="spacingAndGlyphs" >81</text>
<text x="235.5" y="61" font-size="9.5" text-anchor="middle" font-weight="normal" fill="#000" stroke="#000" stroke-width="0.2" textLength="14.100000000000001" lengthAdjust="spacingAndGlyphs" >121</text>
<text x="296.5" y="61" font-size="9.5" text-anchor="middle" font-weight="normal" fill="#000" stroke="#000" stroke-width="0.2" textLength="14.100000000000001" lengthAdjust="spacingAndGlyphs" >161</text>
<text x="356.5" y="61" font-size="9.5" text-anchor="middle" font-weight="normal" fill="#000" stroke="#000" stroke-width="0.2" textLength="14.100000000000001" lengthAdjust="spacingAndGlyphs" >201</text>
<text x="417.5" y="61" font-size="9.5" text-anchor="middle" font-weight="normal" fill="#000" stroke="#000" stroke-width="0.2" textLength="14.100000000000001" lengthAdjust="spacingAndGlyphs" >241</text>
<text x="472.7" y="61" font-size="9.5" text-anchor="middle" font-weight="normal" fill="#000" stroke="#000" stroke-width="0.2" textLength="14.5" lengthAdjust="spacingAndGlyphs" >288</text>
<rect x="50" y="74" width="1" height="734" fill="#000"/>
<rect x="42" y="74" width="9" height="1" fill="#000"/>
<rect x="46" y="104" width="5" height="1" fill="#000"/>
<rect x="46" y="133" width="5" height="1" fill="#000"/>
<rect x="46" y="162" width="5" height="1" fill="#000"/>
<rect x="42" y="192" width="9" height="1" fill="#000"/>
<rect x="46" y="221" width="5" height="1" fill="#000"/>
<rect x="46" y="250" width="5" height="1" fill="#000"/>
<rect x="46" y="280" width="5" height="1" fill="#000"/>
<rect x="42" y="309" width="9" height="1" fill="#000"/>
<rect x="46" y="339" width="5" height="1" fill="#000"/>
<rect x="46" y="368" width="5" height="1" fill="#000"/>
<rect x="46" y="397" width="5" height="1" fill="#000"/>
<rect x="42" y="427" width="9" height="1" fill="#000"/>
<rect x="46" y="456" width="5" height="1" fill="#000"/>
<rect x="46" y="485" width="5" height="1" fill="#000"/>
<rect x="46" y="515" width="5" height="1" fill="#000"/>
<rect x="42" y="544" width="9" height="1" fill="#000"/>
<rect x="46" y="573" width="5" height="1" fill="#000"/>
<rect x="46" y="603" width="5" height="1" fill="#000"/>
<rect x="46" y="632" width="5" height="1" fill="#000"/>
<rect x="42" y="661" width="9" height="1" fill="#000"/>
<rect x="46" y="691" width="5" height="1" fill="#000"/>
<rect x="46" y="720" width="5" height="1" fill="#000"/>
<rect x="46" y="749" width="5" height="1" fill="#000"/>
<rect x="42" y="779" width="9" height="1" fill="#000"/>
<rect x="42" y="807" width="9" height="1" fill="#000"/>
<text x="37" y="77" font-size="9.5" text-anchor="end" font-weight="normal" fill="#000" stroke="#000" stroke-width="0.2" textLength="4.7" lengthAdjust="spacingAndGlyphs" >0</text>
<text x="37" y="195" font-size="9.5" text-anchor="end" font-weight="normal" fill="#000" stroke="#000" stroke-width="0.2" textLength="9.4" lengthAdjust="spacingAndGlyphs" >20</text>
<text x="37" y="312" font-size="9.5" text-anchor="end" font-weight="normal" fill="#000" stroke="#000" stroke-width="0.2" textLength="9.4" lengthAdjust="spacingAndGlyphs" >40</text>
<text x="37" y="430" font-size="9.5" text-anchor="end" font-weight="normal" fill="#000" stroke="#000" stroke-width="0.2" textLength="9.4" lengthAdjust="spacingAndGlyphs" >60</text>
<text x="37" y="547" font-size="9.5" text-anchor="end" font-weight="normal" fill="#000" stroke="#000" stroke-width="0.2" textLength="9.4" lengthAdjust="spacingAndGlyphs" >80</text>
<text x="37" y="664" font-size="9.5" text-anchor="end" font-weight="normal" fill="#000" stroke="#000" stroke-width="0.2" textLength="14.100000000000001" lengthAdjust="spacingAndGlyphs" >100</text>
<text x="37" y="782" font-size="9.5" text-anchor="end" font-weight="normal" fill="#000" stroke="#000" stroke-width="0.2" textLength="14.100000000000001" lengthAdjust="spacingAndGlyphs" >120</text>
<text x="37" y="810" font-size="9.5" text-anchor="end" font-weight="normal" fill="#000" stroke="#000" stroke-width="0.2" textLength="14.100000000000001" lengthAdjust="spacingAndGlyphs" >125</text>
<text transform="translate(17.2,441) rotate(-90)" font-size="9" text-anchor="middle" stroke="#000" stroke-width="0.2" textLength="57" lengthAdjust="spacingAndGlyphs">Frequency [Hz]</text>
<rect x="53" y="72" width="429" height="2" fill="#a0a0a0"/>
<rect x="53" y="72" width="2" height="736" fill="#a0a0a0"/>
<rect x="482" y="74" width="17" height="734" fill="url(#chk)"/>
<rect x="482" y="74" width="17" height="17" fill="#f0f0f0"/>
<rect x="482" y="74" width="16" height="1" fill="#fff"/>
<rect x="482" y="74" width="1" height="16" fill="#fff"/>
<rect x="482" y="90" width="17" height="1" fill="#696969"/>
<rect x="498" y="74" width="1" height="17" fill="#696969"/>
<rect x="483" y="89" width="15" height="1" fill="#a0a0a0"/>
<rect x="497" y="75" width="1" height="15" fill="#a0a0a0"/>
<path d="M486.5 84.5 L493.5 84.5 L490.0 80.5 Z" fill="#acacac"/>
<rect x="482" y="791" width="17" height="17" fill="#f0f0f0"/>
<rect x="482" y="791" width="16" height="1" fill="#fff"/>
<rect x="482" y="791" width="1" height="16" fill="#fff"/>
<rect x="482" y="807" width="17" height="1" fill="#696969"/>
<rect x="498" y="791" width="1" height="17" fill="#696969"/>
<rect x="483" y="806" width="15" height="1" fill="#a0a0a0"/>
<rect x="497" y="792" width="1" height="15" fill="#a0a0a0"/>
<path d="M486.5 797.5 L493.5 797.5 L490.0 801.5 Z" fill="#acacac"/>
<rect x="55" y="809" width="426" height="17" fill="url(#chk)"/>
<rect x="55" y="809" width="17" height="17" fill="#f0f0f0"/>
<rect x="55" y="809" width="16" height="1" fill="#fff"/>
<rect x="55" y="809" width="1" height="16" fill="#fff"/>
<rect x="55" y="825" width="17" height="1" fill="#696969"/>
<rect x="71" y="809" width="1" height="17" fill="#696969"/>
<rect x="56" y="824" width="15" height="1" fill="#a0a0a0"/>
<rect x="70" y="810" width="1" height="15" fill="#a0a0a0"/>
<path d="M64.5 813.5 L64.5 820.5 L60.5 817.0 Z" fill="#acacac"/>
<rect x="464" y="809" width="17" height="17" fill="#f0f0f0"/>
<rect x="464" y="809" width="16" height="1" fill="#fff"/>
<rect x="464" y="809" width="1" height="16" fill="#fff"/>
<rect x="464" y="825" width="17" height="1" fill="#696969"/>
<rect x="480" y="809" width="1" height="17" fill="#696969"/>
<rect x="465" y="824" width="15" height="1" fill="#a0a0a0"/>
<rect x="479" y="810" width="1" height="15" fill="#a0a0a0"/>
<path d="M470.5 813.5 L470.5 820.5 L474.5 817.0 Z" fill="#acacac"/>
<rect x="562" y="65" width="552" height="753" fill="#fff"/>
<text x="836" y="40" font-size="9" text-anchor="middle" font-weight="normal" fill="#000" stroke="#000" stroke-width="0.2" textLength="57" lengthAdjust="spacingAndGlyphs" >Frequency [Hz]</text>
<rect x="562" y="60" width="551" height="1" fill="#000"/>
<rect x="562" y="54" width="1" height="7" fill="#000"/>
<rect x="584" y="57" width="1" height="4" fill="#000"/>
<rect x="606" y="57" width="1" height="4" fill="#000"/>
<rect x="628" y="57" width="1" height="4" fill="#000"/>
<rect x="650" y="54" width="1" height="7" fill="#000"/>
<rect x="672" y="57" width="1" height="4" fill="#000"/>
<rect x="694" y="57" width="1" height="4" fill="#000"/>
<rect x="716" y="57" width="1" height="4" fill="#000"/>
<rect x="738" y="54" width="1" height="7" fill="#000"/>
<rect x="760" y="57" width="1" height="4" fill="#000"/>
<rect x="782" y="57" width="1" height="4" fill="#000"/>
<rect x="804" y="57" width="1" height="4" fill="#000"/>
<rect x="826" y="54" width="1" height="7" fill="#000"/>
<rect x="848" y="57" width="1" height="4" fill="#000"/>
<rect x="870" y="57" width="1" height="4" fill="#000"/>
<rect x="892" y="57" width="1" height="4" fill="#000"/>
<rect x="914" y="54" width="1" height="7" fill="#000"/>
<rect x="936" y="57" width="1" height="4" fill="#000"/>
<rect x="958" y="57" width="1" height="4" fill="#000"/>
<rect x="980" y="57" width="1" height="4" fill="#000"/>
<rect x="1002" y="54" width="1" height="7" fill="#000"/>
<rect x="1024" y="57" width="1" height="4" fill="#000"/>
<rect x="1046" y="57" width="1" height="4" fill="#000"/>
<rect x="1068" y="57" width="1" height="4" fill="#000"/>
<rect x="1090" y="54" width="1" height="7" fill="#000"/>
<text x="562.5" y="52" font-size="9.5" text-anchor="middle" font-weight="normal" fill="#000" stroke="#000" stroke-width="0.2" textLength="4.8" lengthAdjust="spacingAndGlyphs" >0</text>
<text x="650.5" y="52" font-size="9.5" text-anchor="middle" font-weight="normal" fill="#000" stroke="#000" stroke-width="0.2" textLength="9.6" lengthAdjust="spacingAndGlyphs" >20</text>
<text x="738.5" y="52" font-size="9.5" text-anchor="middle" font-weight="normal" fill="#000" stroke="#000" stroke-width="0.2" textLength="9.6" lengthAdjust="spacingAndGlyphs" >40</text>
<text x="826.5" y="52" font-size="9.5" text-anchor="middle" font-weight="normal" fill="#000" stroke="#000" stroke-width="0.2" textLength="9.6" lengthAdjust="spacingAndGlyphs" >60</text>
<text x="914.5" y="52" font-size="9.5" text-anchor="middle" font-weight="normal" fill="#000" stroke="#000" stroke-width="0.2" textLength="9.6" lengthAdjust="spacingAndGlyphs" >80</text>
<text x="1002.5" y="52" font-size="9.5" text-anchor="middle" font-weight="normal" fill="#000" stroke="#000" stroke-width="0.2" textLength="14.399999999999999" lengthAdjust="spacingAndGlyphs" >100</text>
<text x="1090.5" y="52" font-size="9.5" text-anchor="middle" font-weight="normal" fill="#000" stroke="#000" stroke-width="0.2" textLength="14.399999999999999" lengthAdjust="spacingAndGlyphs" >120</text>
<text x="1112" y="52" font-size="9.5" text-anchor="end" font-weight="normal" fill="#000" stroke="#000" stroke-width="0.2" textLength="14.2" lengthAdjust="spacingAndGlyphs" >125</text>
<rect x="557" y="65" width="1" height="752" fill="#000"/>
<rect x="549" y="816" width="9" height="1" fill="#000"/>
<rect x="553" y="789" width="5" height="1" fill="#000"/>
<rect x="553" y="763" width="5" height="1" fill="#000"/>
<rect x="553" y="737" width="5" height="1" fill="#000"/>
<rect x="549" y="711" width="9" height="1" fill="#000"/>
<rect x="553" y="684" width="5" height="1" fill="#000"/>
<rect x="553" y="658" width="5" height="1" fill="#000"/>
<rect x="553" y="632" width="5" height="1" fill="#000"/>
<rect x="549" y="605" width="9" height="1" fill="#000"/>
<rect x="553" y="579" width="5" height="1" fill="#000"/>
<rect x="553" y="553" width="5" height="1" fill="#000"/>
<rect x="553" y="526" width="5" height="1" fill="#000"/>
<rect x="549" y="500" width="9" height="1" fill="#000"/>
<rect x="553" y="474" width="5" height="1" fill="#000"/>
<rect x="553" y="447" width="5" height="1" fill="#000"/>
<rect x="553" y="421" width="5" height="1" fill="#000"/>
<rect x="549" y="395" width="9" height="1" fill="#000"/>
<rect x="553" y="368" width="5" height="1" fill="#000"/>
<rect x="553" y="342" width="5" height="1" fill="#000"/>
<rect x="553" y="316" width="5" height="1" fill="#000"/>
<rect x="549" y="289" width="9" height="1" fill="#000"/>
<rect x="553" y="263" width="5" height="1" fill="#000"/>
<rect x="553" y="237" width="5" height="1" fill="#000"/>
<rect x="553" y="210" width="5" height="1" fill="#000"/>
<rect x="549" y="184" width="9" height="1" fill="#000"/>
<rect x="553" y="158" width="5" height="1" fill="#000"/>
<rect x="553" y="131" width="5" height="1" fill="#000"/>
<rect x="553" y="105" width="5" height="1" fill="#000"/>
<rect x="549" y="79" width="9" height="1" fill="#000"/>
<rect x="549" y="65" width="9" height="1" fill="#000"/>
<text x="544" y="819.3" font-size="9.5" text-anchor="end" font-weight="normal" fill="#000" stroke="#000" stroke-width="0.2" textLength="4.7" lengthAdjust="spacingAndGlyphs" >0</text>
<text x="544" y="714.3" font-size="9.5" text-anchor="end" font-weight="normal" fill="#000" stroke="#000" stroke-width="0.2" textLength="4.7" lengthAdjust="spacingAndGlyphs" >2</text>
<text x="544" y="608.3" font-size="9.5" text-anchor="end" font-weight="normal" fill="#000" stroke="#000" stroke-width="0.2" textLength="4.7" lengthAdjust="spacingAndGlyphs" >4</text>
<text x="544" y="503.3" font-size="9.5" text-anchor="end" font-weight="normal" fill="#000" stroke="#000" stroke-width="0.2" textLength="4.7" lengthAdjust="spacingAndGlyphs" >6</text>
<text x="544" y="398.3" font-size="9.5" text-anchor="end" font-weight="normal" fill="#000" stroke="#000" stroke-width="0.2" textLength="4.7" lengthAdjust="spacingAndGlyphs" >8</text>
<text x="544" y="292.3" font-size="9.5" text-anchor="end" font-weight="normal" fill="#000" stroke="#000" stroke-width="0.2" textLength="9.4" lengthAdjust="spacingAndGlyphs" >10</text>
<text x="544" y="187.3" font-size="9.5" text-anchor="end" font-weight="normal" fill="#000" stroke="#000" stroke-width="0.2" textLength="9.4" lengthAdjust="spacingAndGlyphs" >12</text>
<text x="544" y="82.3" font-size="9.5" text-anchor="end" font-weight="normal" fill="#000" stroke="#000" stroke-width="0.2" textLength="9.4" lengthAdjust="spacingAndGlyphs" >14</text>
<text x="544" y="68.3" font-size="9.5" text-anchor="end" font-weight="normal" fill="#000" stroke="#000" stroke-width="0.2" textLength="9.4" lengthAdjust="spacingAndGlyphs" >14</text>
<text transform="translate(529.8,441) rotate(-90)" font-size="9" text-anchor="middle" stroke="#000" stroke-width="0.2" textLength="89" lengthAdjust="spacingAndGlyphs">Amplitude [Amplitude]</text>
<rect x="560" y="63" width="554" height="2" fill="#a0a0a0"/>
<rect x="560" y="63" width="2" height="755" fill="#a0a0a0"/>
<rect x="1114" y="65" width="17" height="752" fill="url(#chk)"/>
<rect x="1114" y="65" width="17" height="17" fill="#f0f0f0"/>
<rect x="1114" y="65" width="16" height="1" fill="#fff"/>
<rect x="1114" y="65" width="1" height="16" fill="#fff"/>
<rect x="1114" y="81" width="17" height="1" fill="#696969"/>
<rect x="1130" y="65" width="1" height="17" fill="#696969"/>
<rect x="1115" y="80" width="15" height="1" fill="#a0a0a0"/>
<rect x="1129" y="66" width="1" height="15" fill="#a0a0a0"/>
<path d="M1118.5 75.5 L1125.5 75.5 L1122.0 71.5 Z" fill="#acacac"/>
<rect x="1114" y="800" width="17" height="17" fill="#f0f0f0"/>
<rect x="1114" y="800" width="16" height="1" fill="#fff"/>
<rect x="1114" y="800" width="1" height="16" fill="#fff"/>
<rect x="1114" y="816" width="17" height="1" fill="#696969"/>
<rect x="1130" y="800" width="1" height="17" fill="#696969"/>
<rect x="1115" y="815" width="15" height="1" fill="#a0a0a0"/>
<rect x="1129" y="801" width="1" height="15" fill="#a0a0a0"/>
<path d="M1118.5 806.5 L1125.5 806.5 L1122.0 810.5 Z" fill="#acacac"/>
<rect x="562" y="818" width="552" height="17" fill="url(#chk)"/>
<rect x="562" y="818" width="17" height="17" fill="#f0f0f0"/>
<rect x="562" y="818" width="16" height="1" fill="#fff"/>
<rect x="562" y="818" width="1" height="16" fill="#fff"/>
<rect x="562" y="834" width="17" height="1" fill="#696969"/>
<rect x="578" y="818" width="1" height="17" fill="#696969"/>
<rect x="563" y="833" width="15" height="1" fill="#a0a0a0"/>
<rect x="577" y="819" width="1" height="15" fill="#a0a0a0"/>
<path d="M571.5 822.5 L571.5 829.5 L567.5 826.0 Z" fill="#acacac"/>
<rect x="1096" y="818" width="17" height="17" fill="#f0f0f0"/>
<rect x="1096" y="818" width="16" height="1" fill="#fff"/>
<rect x="1096" y="818" width="1" height="16" fill="#fff"/>
<rect x="1096" y="834" width="17" height="1" fill="#696969"/>
<rect x="1112" y="818" width="1" height="17" fill="#696969"/>
<rect x="1097" y="833" width="15" height="1" fill="#a0a0a0"/>
<rect x="1111" y="819" width="1" height="15" fill="#a0a0a0"/>
<path d="M1102.5 822.5 L1102.5 829.5 L1106.5 826.0 Z" fill="#acacac"/>
</g>
<polyline points="562.5,815.5 592.5,815.5 597.5,813.5 602.5,805.5 606.5,770.5 609.1,719.5 611.7,661.5 615.0,595.5 618.3,558.5 621.5,546.5 623.7,565.5 625.9,617.5 629.1,652.5 631.5,662.5 634.5,669.5 636.0,664.5 638.3,667.5 643.3,675.5 648.7,695.5 653.5,706.5 658.5,689.5 662.9,643.5 666.1,584.5 668.3,530.5 669.5,480.5 671.5,316.5 674.0,218.5 677.0,164.5 679.3,140.5 681.5,145.5 684.5,160.5 686.5,120.5 688.9,93.5 691.9,100.5 694.0,65.9 696.3,135.0 698.5,191.5 702.3,316.5 705.9,480.5 709.0,562.5 712.1,593.5 716.2,594.5 719.3,606.5 722.4,608.5 724.5,599.5 728.5,571.5 731.7,531.5 734.8,480.5 739.3,370.5 742.2,244.5 745.2,176.5 747.5,140.5 749.7,130.8 751.5,150.5 754.8,208.5 756.5,300.5 761.5,370.5 767.3,411.5 770.3,405.5 776.3,446.5 778.7,514.5 780.8,574.5 785.2,618.5 790.5,628.5 797.1,607.5 801.5,586.5 810.5,586.5 815.0,571.5 822.5,559.5 827.0,560.5 835.3,551.0 840.5,571.5 846.5,637.5 850.7,656.5 856.5,669.5 863.5,700.5 870.8,720.5 878.5,726.5 886.5,703.5 898.0,697.5 903.5,699.5 912.3,735.5 920.9,753.5 926.5,760.5 935.2,775.5 949.5,782.5 959.5,781.0 968.1,770.9 973.8,786.5 979.5,812.5 986.5,815.5 1002.5,815.5 1005.5,816.5 1113.5,816.5" fill="none" stroke="#9000d8" stroke-width="1" shape-rendering="crispEdges"/>
<polyline points="562.5,811.5 592.5,810.5 599.5,808.5 604.5,788.5 608.0,736.5 609.5,719.5 612.8,652.5 615.7,602.5 618.3,580.5 621.1,575.1 623.7,587.5 625.9,624.5 629.1,661.5 633.5,682.5 635.5,678.5 637.8,685.0 643.3,693.5 648.7,709.0 653.4,721.2 656.3,717.5 661.8,661.5 666.1,602.5 669.4,530.5 670.5,440.5 674.9,316.5 679.9,240.9 684.5,257.3 688.9,203.5 691.5,214.0 694.0,183.3 698.5,269.2 700.8,316.5 704.9,480.5 708.0,542.5 710.1,604.0 712.1,627.5 715.2,628.5 719.3,639.0 721.4,639.0 723.5,632.5 727.5,604.0 731.7,562.5 735.8,505.5 737.9,480.5 740.5,370.5 744.5,286.5 749.7,250.5 757.1,370.5 759.9,440.5 766.7,472.5 770.3,465.5 776.3,505.5 778.7,559.5 780.8,604.5 785.2,640.5 791.5,663.0 800.5,622.0 810.5,624.9 816.3,609.1 824.9,602.0 835.5,587.5 843.5,623.5 849.3,676.5 857.9,689.5 863.5,706.5 870.8,732.5 879.3,738.5 889.4,716.5 902.3,713.5 910.8,732.5 919.5,759.5 926.5,763.5 935.2,779.5 950.9,787.5 961.0,785.5 967.3,776.5 978.1,809.5 983.9,813.5 1113.5,813.5" fill="none" stroke="#33c433" stroke-width="1" shape-rendering="crispEdges"/>
<polyline points="562.5,816.5 606.3,816.5 614.9,791.5 622.5,788.5 628.5,797.5 640.5,796.5 652.5,802.0 661.3,795.1 666.9,776.5 671.7,736.5 674.9,717.5 678.5,715.0 684.2,722.5 689.4,707.5 694.2,700.1 699.8,722.5 704.5,744.5 710.2,778.5 712.5,782.5 716.5,781.5 722.2,786.5 727.9,781.5 733.5,771.5 739.1,744.5 743.9,717.5 750.0,696.1 754.3,704.5 759.1,740.5 763.9,747.0 767.1,755.1 769.5,757.5 771.1,755.1 776.0,755.1 778.4,757.5 785.5,783.5 793.5,782.0 803.5,781.0 823.5,774.7 837.8,780.5 852.1,793.8 860.7,800.5 877.9,804.5 896.5,799.5 923.5,811.0 946.5,810.5 966.5,811.0 978.1,816.5 1113.5,816.5" fill="none" stroke="#ff0000" stroke-width="1" shape-rendering="crispEdges"/>
<g shape-rendering="crispEdges">
<rect x="1126" y="78" width="8" height="1" fill="#ff0000"/>
<rect x="1126" y="113" width="8" height="1" fill="#33c433"/>
<rect x="1126" y="148" width="8" height="1" fill="#9000d8"/>
</g>
<text x="1140.5" y="84" font-size="14.7" text-anchor="start" font-weight="normal" fill="#000" textLength="101.5" lengthAdjust="spacingAndGlyphs" >Noise spectrum</text>
<text x="1140.5" y="119" font-size="14.7" text-anchor="start" font-weight="normal" fill="#000" >Signal spectrum</text>
<text x="1140.5" y="154" font-size="14.7" text-anchor="start" font-weight="normal" fill="#000" textLength="96.5" lengthAdjust="spacingAndGlyphs" >Total spectrum</text>
<g shape-rendering="crispEdges">
<rect x="0" y="871" width="1245" height="2" fill="#747474"/>
<rect x="0" y="870" width="1245" height="1" fill="#fbfbfb"/>
<rect x="0" y="841" width="67" height="2" fill="#858585"/>
<rect x="0" y="865" width="67" height="2" fill="#858585"/>
<rect x="67" y="841" width="1" height="26" fill="#fcfcfc"/>
<text x="9.5" y="860" font-size="14.5" text-anchor="start" font-weight="normal" fill="#000" textLength="42.5" lengthAdjust="spacingAndGlyphs" >Total...</text>
<rect x="69" y="867" width="443" height="2" fill="#858585"/>
<rect x="511" y="841" width="2" height="28" fill="#858585"/>
<rect x="517" y="841" width="1" height="27" fill="#fcfcfc"/>
<text x="79.5" y="861" font-size="14.5" text-anchor="start" font-weight="normal" fill="#000" textLength="395" lengthAdjust="spacingAndGlyphs" >F-X spectrum analysis - F-X spectrum gather [ Spectral ana...</text>
<rect x="479" y="845" width="21" height="20" fill="#f0f0f0"/>
<rect x="479" y="845" width="20" height="1" fill="#fff"/>
<rect x="479" y="845" width="1" height="19" fill="#fff"/>
<rect x="479" y="863" width="21" height="2" fill="#737373"/>
<rect x="498" y="845" width="2" height="20" fill="#737373"/>
<rect x="519" y="867" width="215" height="2" fill="#858585"/>
<rect x="733" y="841" width="2" height="28" fill="#858585"/>
<rect x="733" y="841" width="512" height="2" fill="#858585"/>
<text x="529" y="861" font-size="15" text-anchor="start" font-weight="normal" fill="#000" textLength="168.5" lengthAdjust="spacingAndGlyphs" >Frequency-Amplitude/DB</text>
<rect x="701" y="845" width="21" height="20" fill="#f0f0f0"/>
<rect x="701" y="845" width="20" height="1" fill="#fff"/>
<rect x="701" y="845" width="1" height="19" fill="#fff"/>
<rect x="701" y="863" width="21" height="2" fill="#737373"/>
<rect x="720" y="845" width="2" height="20" fill="#737373"/>
</g>
<path d="M485.2 851 L492.8 859 M492.8 851 L485.2 859" stroke="#333" stroke-width="1.4"/>
<path d="M707.2 851 L714.8 859 M714.8 851 L707.2 859" stroke="#333" stroke-width="1.4"/>
<rect x="965.5" y="2.5" width="21" height="21" fill="url(#chk)" stroke="#a8a8a8"/>
<path d="M974.4 20.5 L969.6 15 Q968.7 13.6 970 12.5 Q971.5 11.6 973.2 13.6 L973.8 14.3 L972 9.4 Q971.8 7.3 973.4 7.2 Q974.6 7.2 975.4 9 L975.6 11.4 L975.5 8.2 Q975.6 6.2 977 6.2 Q978.4 6.3 978.5 8.2 L978.6 11.4 L979.4 8.2 Q979.8 7 981 7.4 Q981.8 8 981.6 9.4 L981.6 12.2 L982.6 10.2 Q983.6 9 984.6 10 Q985 10.8 984.8 12.8 L984.2 16.2 L981.4 20.6" fill="#fff" stroke="#000" stroke-width="1.1" stroke-linejoin="round"/>
<path d="M462.4 20.5 L457.6 15 Q456.7 13.6 458 12.5 Q459.5 11.6 461.2 13.6 L461.8 14.3 L460 9.4 Q459.8 7.3 461.4 7.2 Q462.6 7.2 463.4 9 L463.6 11.4 L463.5 8.2 Q463.6 6.2 465 6.2 Q466.4 6.3 466.5 8.2 L466.6 11.4 L467.4 8.2 Q467.8 7 469 7.4 Q469.8 8 469.6 9.4 L469.6 12.2 L470.6 10.2 Q471.6 9 472.6 10 Q473 10.8 472.8 12.8 L472.2 16.2 L469.4 20.6" fill="#fff" stroke="#000" stroke-width="1.1" stroke-linejoin="round"/>
<g transform="translate(1002,12.8)" fill="#0b4d9c"><circle r="4.9"/><rect x="-1.15" y="-7.3" width="2.3" height="3.5" transform="rotate(0)"/><rect x="-1.15" y="-7.3" width="2.3" height="3.5" transform="rotate(45)"/><rect x="-1.15" y="-7.3" width="2.3" height="3.5" transform="rotate(90)"/><rect x="-1.15" y="-7.3" width="2.3" height="3.5" transform="rotate(135)"/><rect x="-1.15" y="-7.3" width="2.3" height="3.5" transform="rotate(180)"/><rect x="-1.15" y="-7.3" width="2.3" height="3.5" transform="rotate(225)"/><rect x="-1.15" y="-7.3" width="2.3" height="3.5" transform="rotate(270)"/><rect x="-1.15" y="-7.3" width="2.3" height="3.5" transform="rotate(315)"/><circle r="2.2" fill="#f0f0f0"/></g>
<g shape-rendering="crispEdges">
<rect x="1017" y="2" width="22" height="22" fill="#a8a8a8"/><rect x="1018" y="3" width="20" height="20" fill="url(#chk)"/>
<rect x="1039" y="2" width="11" height="1" fill="#a8a8a8"/><rect x="1039" y="3" width="11" height="20" fill="#f0f0f0"/><rect x="1039" y="23" width="11" height="1" fill="#fff"/>
<g fill="#000"><rect x="1021" y="6" width="1" height="1"/><rect x="1021" y="21" width="1" height="1"/><rect x="1023" y="6" width="1" height="1"/><rect x="1023" y="21" width="1" height="1"/><rect x="1025" y="6" width="1" height="1"/><rect x="1025" y="21" width="1" height="1"/><rect x="1027" y="6" width="1" height="1"/><rect x="1027" y="21" width="1" height="1"/><rect x="1029" y="6" width="1" height="1"/><rect x="1029" y="21" width="1" height="1"/><rect x="1031" y="6" width="1" height="1"/><rect x="1031" y="21" width="1" height="1"/><rect x="1033" y="6" width="1" height="1"/><rect x="1033" y="21" width="1" height="1"/><rect x="1035" y="6" width="1" height="1"/><rect x="1035" y="21" width="1" height="1"/><rect x="1021" y="8" width="1" height="1"/><rect x="1036" y="8" width="1" height="1"/><rect x="1021" y="10" width="1" height="1"/><rect x="1036" y="10" width="1" height="1"/><rect x="1021" y="12" width="1" height="1"/><rect x="1036" y="12" width="1" height="1"/><rect x="1021" y="14" width="1" height="1"/><rect x="1036" y="14" width="1" height="1"/><rect x="1021" y="16" width="1" height="1"/><rect x="1036" y="16" width="1" height="1"/><rect x="1021" y="18" width="1" height="1"/><rect x="1036" y="18" width="1" height="1"/><rect x="1021" y="20" width="1" height="1"/><rect x="1036" y="20" width="1" height="1"/></g>
</g>
<path d="M1024.5 9.5 L1030.5 9.5 L1024.5 15.5 Z" fill="#3a3a3a"/><path d="M1026 11 L1031.5 16.5" stroke="#3a3a3a" stroke-width="1.8"/>
<rect x="1030.8" y="15.8" width="5.4" height="5.2" fill="#fff" stroke="#3a3a3a" stroke-width="1.3"/>
<path d="M1040 10 L1049 10 L1044.5 15 Z" fill="#000"/>
<circle cx="1063.9" cy="10.9" r="5.6" fill="none" stroke="#333" stroke-width="1.3"/><path d="M1067.9 15.2 L1073.2 20.5" stroke="#333" stroke-width="2.2"/>
<path d="M1084.2 5.2 Q1086.3 5.6 1086.6 8 Q1087 10.2 1090.2 11" fill="none" stroke="#333" stroke-width="1.1"/>
<ellipse cx="1094.3" cy="15.2" rx="4.6" ry="6" transform="rotate(-38 1094.3 15.2)" fill="none" stroke="#333" stroke-width="1.2"/>
<path d="M1089.9 14.4 L1095.2 11.2 M1092.4 12.9 L1091.2 10.2" stroke="#333" stroke-width="1"/>
<path d="M1109.8 15.8 L1113.2 13.4 L1118 16.4 L1122.8 13.4 L1126.2 15.8 L1118 20.2 Z" fill="#0b55a8"/>
<path d="M1110.8 10.4 L1118 6.1 L1125.2 10.4 L1118 14.6 Z" fill="#f0f0f0" stroke="#333" stroke-width="1.1" stroke-linejoin="miter"/>
<path d="M1120.8 17.3 L1126.2 17.3 L1123.5 20 Z" fill="#000"/>
<g shape-rendering="crispEdges" fill="#0b55a8"><rect x="1136" y="12" width="1" height="2"/><rect x="1138" y="12" width="1" height="2"/><rect x="1149" y="12" width="1" height="2"/><rect x="1151" y="12" width="1" height="2"/><rect x="1143" y="5" width="2" height="1"/><rect x="1143" y="7" width="2" height="1"/><rect x="1143" y="18" width="2" height="1"/><rect x="1143" y="20" width="2" height="1"/></g>
<g shape-rendering="crispEdges" fill="#2a2a2a"><rect x="1140" y="12" width="8" height="2"/><rect x="1143" y="9" width="2" height="8"/></g>
<path d="M1146.3 15.4 L1150 15.6 L1146.5 19.2 Z" fill="#e8732a"/><path d="M1147.5 16.8 L1151.2 20" stroke="#e8732a" stroke-width="1.6"/>
<path d="M1163.6 7.5 L1176.5 7.5 L1176.5 16.6 L1169.2 16.6 L1165.4 20.2 L1165.4 16.6 L1163.6 16.6 Z" fill="none" stroke="#222" stroke-width="1.2" stroke-linejoin="miter"/>
<g fill="#111" shape-rendering="crispEdges"><rect x="1166" y="12" width="2" height="2"/><rect x="1169" y="12" width="2" height="2"/><rect x="1172" y="12" width="2" height="2"/></g>
<path d="M1191.2 9.6 L1189.6 9.6 L1189.6 19 L1202.6 19 L1202.6 9.6 L1201 9.6" fill="none" stroke="#222" stroke-width="1.2"/>
<path d="M1189.8 13.6 Q1192.5 11.4 1194.5 13 Q1196.5 14.8 1198.5 12.8 Q1200.5 11.2 1202.4 12.6 M1189.8 16.8 Q1192.5 15 1194.8 16.4 Q1197 17.8 1199 16.4 Q1201 15.2 1202.4 16.2" fill="none" stroke="#333" stroke-width="1"/>
<path d="M1196.1 5 L1199.2 8 L1193 8 Z" fill="#0b55a8"/><rect x="1195.2" y="7.8" width="1.9" height="3" fill="#0b55a8"/>
<circle cx="1220" cy="13.2" r="5.4" fill="none" stroke="#333" stroke-width="1.2"/><circle cx="1220" cy="13.2" r="2.5" fill="none" stroke="#333" stroke-width="1.1"/>
<path d="M1220 18.6 L1229.8 18.6 L1229.8 16.6" fill="none" stroke="#333" stroke-width="1.1"/><circle cx="1224.6" cy="8.2" r="0.7" fill="#333"/>
<circle cx="1247" cy="12.8" r="6.8" fill="none" stroke="#333" stroke-width="1.2"/>
</svg>
</body></html>
